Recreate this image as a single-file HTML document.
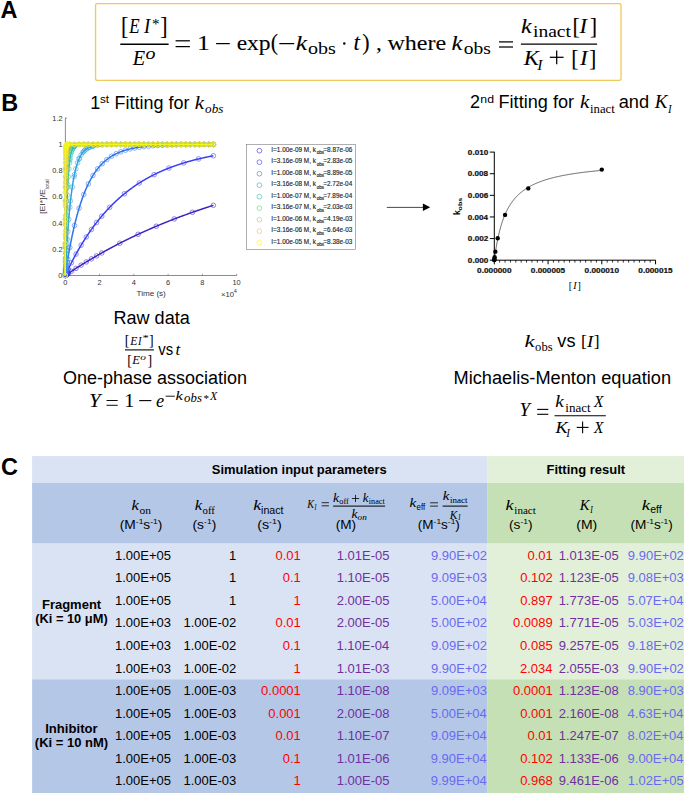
<!DOCTYPE html>
<html><head><meta charset="utf-8"><style>
html,body{margin:0;padding:0;background:#fff;width:685px;height:793px;overflow:hidden}
svg{display:block}
.S{font-family:"Liberation Sans",sans-serif}
.R{font-family:"Liberation Serif",serif}
.R2{stroke:#000;stroke-width:0.1px}
.R1{stroke:#000;stroke-width:0.03px}
.m{stroke:#262626;stroke-width:0.15px}
.p{stroke:#111;stroke-width:0.2px}
</style></head><body>
<svg width="685" height="793" viewBox="0 0 685 793">
<rect width="685" height="793" fill="#fff"/>
<text class="S" x="0.54" y="17.70" font-size="23.5" font-weight="bold" fill="#000">A</text>
<text class="S" x="1.35" y="110.70" font-size="23.5" font-weight="bold" fill="#000">B</text>
<text class="S" x="1.04" y="475.37" font-size="23.5" font-weight="bold" fill="#000">C</text>
<rect x="95.55" y="3.65" width="525.45" height="76.65" rx="1.5" fill="none" stroke="#efca5e" stroke-width="1.35"/>
<text class="R R2" x="121.07" y="0" font-size="22" fill="#000" transform="translate(0,33.98) scale(1,1.1254)">[</text>
<text class="R R2" x="129.20" y="33.40" font-size="22" font-style="italic" fill="#000" textLength="10.37" lengthAdjust="spacingAndGlyphs">E</text>
<text class="R R2" x="143.97" y="33.40" font-size="22" font-style="italic" fill="#000" textLength="6.18" lengthAdjust="spacingAndGlyphs">I</text>
<text class="R R1" x="151.98" y="28.72" font-size="15" fill="#000" textLength="7.53" lengthAdjust="spacingAndGlyphs">*</text>
<text class="R R2" x="160.21" y="0" font-size="22" fill="#000" transform="translate(0,33.98) scale(1,1.1254)">]</text>
<line x1="120.30" y1="44.30" x2="168.60" y2="44.30" stroke="#000" stroke-width="1.4"/>
<text class="R R2" x="132.74" y="64.90" font-size="22" font-style="italic" fill="#000" textLength="12.38" lengthAdjust="spacingAndGlyphs">E</text>
<text class="R R1" x="145.52" y="58.84" font-size="16" font-style="italic" fill="#000" textLength="9.95" lengthAdjust="spacingAndGlyphs">o</text>
<line x1="175.60" y1="40.80" x2="189.90" y2="40.80" stroke="#000" stroke-width="1.25"/>
<line x1="175.60" y1="46.60" x2="189.90" y2="46.60" stroke="#000" stroke-width="1.25"/>
<text class="R R2" x="196.96" y="50.10" font-size="22" fill="#000" textLength="12.89" lengthAdjust="spacingAndGlyphs">1</text>
<line x1="216.10" y1="43.60" x2="229.80" y2="43.60" stroke="#000" stroke-width="1.25"/>
<text class="R R2" x="236.68" y="50.10" font-size="22" fill="#000" textLength="33.93" lengthAdjust="spacingAndGlyphs">exp</text>
<text class="R R2" x="270.65" y="0" font-size="22" fill="#000" transform="translate(0,49.80) scale(1,1.0023)">(</text>
<line x1="279.30" y1="43.60" x2="294.20" y2="43.60" stroke="#000" stroke-width="1.25"/>
<text class="R R2" x="295.69" y="50.00" font-size="22" font-style="italic" fill="#000" textLength="11.33" lengthAdjust="spacingAndGlyphs">k</text>
<text class="R R1" x="308.04" y="54.20" font-size="16" fill="#000" textLength="27.87" lengthAdjust="spacingAndGlyphs">obs</text>
<circle cx="344.3" cy="43.4" r="1.25" fill="#000"/>
<text class="R R2" x="353.41" y="50.00" font-size="23" font-style="italic" fill="#000">t</text>
<text class="R R2" x="362.20" y="0" font-size="22" fill="#000" transform="translate(0,49.80) scale(1,1.0023)">)</text>
<text class="R R2" x="376.01" y="50.00" font-size="22" fill="#000" textLength="5.83" lengthAdjust="spacingAndGlyphs">,</text>
<text class="R R2" x="387.40" y="50.00" font-size="22" fill="#000" textLength="58.71" lengthAdjust="spacingAndGlyphs">where</text>
<text class="R R2" x="451.62" y="49.90" font-size="22" font-style="italic" fill="#000" textLength="10.81" lengthAdjust="spacingAndGlyphs">k</text>
<text class="R R1" x="463.76" y="54.20" font-size="16" fill="#000" textLength="27.13" lengthAdjust="spacingAndGlyphs">obs</text>
<line x1="499.00" y1="41.90" x2="513.00" y2="41.90" stroke="#000" stroke-width="1.25"/>
<line x1="499.00" y1="47.00" x2="513.00" y2="47.00" stroke="#000" stroke-width="1.25"/>
<line x1="520.90" y1="44.10" x2="597.10" y2="44.10" stroke="#000" stroke-width="1.4"/>
<text class="R R2" x="521.13" y="32.80" font-size="22" font-style="italic" fill="#000" textLength="10.61" lengthAdjust="spacingAndGlyphs">k</text>
<text class="R R1" x="532.99" y="37.00" font-size="16" fill="#000" textLength="37.91" lengthAdjust="spacingAndGlyphs">inact</text>
<text class="R R2" x="572.47" y="0" font-size="22" fill="#000" transform="translate(0,33.98) scale(1,1.0924)">[</text>
<text class="R R2" x="579.49" y="32.80" font-size="22" font-style="italic" fill="#000" textLength="7.51" lengthAdjust="spacingAndGlyphs">I</text>
<text class="R R2" x="589.71" y="0" font-size="22" fill="#000" transform="translate(0,33.98) scale(1,1.0924)">]</text>
<text class="R R2" x="523.77" y="64.60" font-size="22" font-style="italic" fill="#000" textLength="15.24" lengthAdjust="spacingAndGlyphs">K</text>
<text class="R R1" x="537.36" y="69.80" font-size="15" font-style="italic" fill="#000" textLength="5.21" lengthAdjust="spacingAndGlyphs">I</text>
<line x1="549.80" y1="57.30" x2="563.60" y2="57.30" stroke="#000" stroke-width="1.25"/>
<line x1="556.70" y1="50.40" x2="556.70" y2="64.20" stroke="#000" stroke-width="1.25"/>
<text class="R R2" x="571.17" y="0" font-size="22" fill="#000" transform="translate(0,66.00) scale(1,1.0870)">[</text>
<text class="R R2" x="580.09" y="64.60" font-size="22" font-style="italic" fill="#000" textLength="7.60" lengthAdjust="spacingAndGlyphs">I</text>
<text class="R R2" x="589.11" y="0" font-size="22" fill="#000" transform="translate(0,66.00) scale(1,1.0870)">]</text>
<text class="S" x="90.23" y="108.90" font-size="18" fill="#000">1</text>
<text class="S" x="99.98" y="102.98" font-size="11.7" fill="#000">st</text>
<text class="S" x="114.63" y="108.90" font-size="17.5" fill="#000" textLength="74.76" lengthAdjust="spacingAndGlyphs">Fitting for</text>
<text class="R R1" x="194.72" y="108.90" font-size="18" font-style="italic" fill="#000" textLength="9.27" lengthAdjust="spacingAndGlyphs">k</text>
<text class="R R1" x="205.12" y="113.27" font-size="13" font-style="italic" fill="#000" textLength="18.28" lengthAdjust="spacingAndGlyphs">obs</text>
<text class="S" x="470.10" y="108.10" font-size="18" fill="#000">2</text>
<text class="S" x="480.29" y="102.58" font-size="11.7" fill="#000" textLength="13.71" lengthAdjust="spacingAndGlyphs">nd</text>
<text class="S" x="498.51" y="108.20" font-size="17.5" fill="#000" textLength="75.58" lengthAdjust="spacingAndGlyphs">Fitting for</text>
<text class="R R1" x="579.91" y="108.20" font-size="18" font-style="italic" fill="#000" textLength="9.37" lengthAdjust="spacingAndGlyphs">k</text>
<text class="R R1" x="590.03" y="112.60" font-size="13" fill="#000" textLength="24.74" lengthAdjust="spacingAndGlyphs">inact</text>
<text class="S" x="618.73" y="108.20" font-size="17.5" fill="#000" textLength="30.44" lengthAdjust="spacingAndGlyphs">and</text>
<text class="R R1" x="654.83" y="108.20" font-size="18" font-style="italic" fill="#000" textLength="12.75" lengthAdjust="spacingAndGlyphs">K</text>
<text class="R R1" x="668.04" y="113.10" font-size="12" font-style="italic" fill="#000" textLength="3.62" lengthAdjust="spacingAndGlyphs">I</text>
<line x1="65.40" y1="117.60" x2="65.40" y2="275.50" stroke="#5a5a5a" stroke-width="0.7"/>
<line x1="65.20" y1="275.50" x2="236.80" y2="275.50" stroke="#5a5a5a" stroke-width="0.7"/>
<line x1="65.40" y1="275.50" x2="67.10" y2="275.50" stroke="#5a5a5a" stroke-width="0.6"/>
<text class="S" x="58.37" y="278.10" font-size="7.4" fill="#333">0</text>
<line x1="65.40" y1="249.28" x2="67.10" y2="249.28" stroke="#5a5a5a" stroke-width="0.6"/>
<text class="S" x="52.28" y="251.88" font-size="7.4" fill="#333">0.2</text>
<line x1="65.40" y1="223.06" x2="67.10" y2="223.06" stroke="#5a5a5a" stroke-width="0.6"/>
<text class="S" x="52.13" y="225.66" font-size="7.4" fill="#333">0.4</text>
<line x1="65.40" y1="196.84" x2="67.10" y2="196.84" stroke="#5a5a5a" stroke-width="0.6"/>
<text class="S" x="52.23" y="199.44" font-size="7.4" fill="#333">0.6</text>
<line x1="65.40" y1="170.62" x2="67.10" y2="170.62" stroke="#5a5a5a" stroke-width="0.6"/>
<text class="S" x="52.23" y="173.22" font-size="7.4" fill="#333">0.8</text>
<line x1="65.40" y1="144.40" x2="67.10" y2="144.40" stroke="#5a5a5a" stroke-width="0.6"/>
<text class="S" x="58.44" y="147.00" font-size="7.4" fill="#333">1</text>
<line x1="65.40" y1="118.18" x2="67.10" y2="118.18" stroke="#5a5a5a" stroke-width="0.6"/>
<text class="S" x="52.28" y="120.78" font-size="7.4" fill="#333">1.2</text>
<line x1="65.20" y1="275.50" x2="65.20" y2="273.80" stroke="#5a5a5a" stroke-width="0.6"/>
<text class="S" x="63.14" y="285.30" font-size="7.4" fill="#333">0</text>
<line x1="99.50" y1="275.50" x2="99.50" y2="273.80" stroke="#5a5a5a" stroke-width="0.6"/>
<text class="S" x="97.44" y="285.30" font-size="7.4" fill="#333">2</text>
<line x1="133.80" y1="275.50" x2="133.80" y2="273.80" stroke="#5a5a5a" stroke-width="0.6"/>
<text class="S" x="131.77" y="285.30" font-size="7.4" fill="#333">4</text>
<line x1="168.10" y1="275.50" x2="168.10" y2="273.80" stroke="#5a5a5a" stroke-width="0.6"/>
<text class="S" x="166.02" y="285.30" font-size="7.4" fill="#333">6</text>
<line x1="202.40" y1="275.50" x2="202.40" y2="273.80" stroke="#5a5a5a" stroke-width="0.6"/>
<text class="S" x="200.34" y="285.30" font-size="7.4" fill="#333">8</text>
<line x1="236.70" y1="275.50" x2="236.70" y2="273.80" stroke="#5a5a5a" stroke-width="0.6"/>
<text class="S" x="232.44" y="285.30" font-size="7.4" fill="#333">10</text>
<text class="S" x="136.52" y="296.00" font-size="8" fill="#333" textLength="29.28" lengthAdjust="spacingAndGlyphs">Time (s)</text>
<text class="S" x="220.97" y="296.80" font-size="7.4" fill="#333" textLength="12.92" lengthAdjust="spacingAndGlyphs">×10</text>
<text class="S" x="233.68" y="293.38" font-size="5.2" fill="#333" textLength="3.08" lengthAdjust="spacingAndGlyphs">4</text>
<g transform="translate(44.9,213.4) rotate(-90)">
<text class="S" x="-0.63" y="0.00" font-size="8" fill="#333" textLength="25.00" lengthAdjust="spacingAndGlyphs">[EI*]/E</text>
<text class="S" x="24.22" y="3.80" font-size="6.0" fill="#333" textLength="9.82" lengthAdjust="spacingAndGlyphs">total</text>
</g>
<g fill="none" stroke="#3e22c4" stroke-width="0.55"><circle cx="65.20" cy="275.50" r="2.3"/><circle cx="65.30" cy="275.43" r="2.3"/><circle cx="65.41" cy="275.36" r="2.3"/><circle cx="65.51" cy="275.29" r="2.3"/><circle cx="65.61" cy="275.22" r="2.3"/><circle cx="65.71" cy="275.15" r="2.3"/><circle cx="65.92" cy="275.01" r="2.3"/><circle cx="66.13" cy="274.87" r="2.3"/><circle cx="66.33" cy="274.73" r="2.3"/><circle cx="66.54" cy="274.60" r="2.3"/><circle cx="66.74" cy="274.46" r="2.3"/><circle cx="67.26" cy="274.11" r="2.3"/><circle cx="67.77" cy="273.77" r="2.3"/><circle cx="68.29" cy="273.42" r="2.3"/><circle cx="71.37" cy="271.38" r="2.3"/><circle cx="76.00" cy="268.37" r="2.3"/><circle cx="81.15" cy="265.12" r="2.3"/><circle cx="86.29" cy="261.95" r="2.3"/><circle cx="91.44" cy="258.86" r="2.3"/><circle cx="96.58" cy="255.86" r="2.3"/><circle cx="101.73" cy="252.93" r="2.3"/><circle cx="119.74" cy="243.28" r="2.3"/><circle cx="138.09" cy="234.33" r="2.3"/><circle cx="156.27" cy="226.26" r="2.3"/><circle cx="174.27" cy="218.98" r="2.3"/><circle cx="192.45" cy="212.28" r="2.3"/><circle cx="213.38" cy="205.32" r="2.3"/></g>
<polyline points="65.20,275.50 65.57,275.25 65.94,275.00 66.31,274.75 66.68,274.50 67.05,274.25 67.42,274.00 67.79,273.75 68.16,273.51 68.53,273.26 68.90,273.01 69.27,272.77 69.65,272.52 70.02,272.28 70.39,272.03 70.76,271.79 71.13,271.54 71.50,271.30 71.87,271.06 72.24,270.81 72.61,270.57 72.98,270.33 73.35,270.09 73.72,269.85 74.09,269.61 74.46,269.37 74.83,269.13 75.20,268.89 75.57,268.65 75.94,268.41 76.31,268.18 76.68,267.94 77.05,267.70 77.42,267.47 77.79,267.23 78.17,267.00 78.54,266.76 78.91,266.53 79.28,266.29 79.65,266.06 80.02,265.83 80.39,265.60 80.76,265.36 81.13,265.13 81.50,264.90 81.87,264.67 82.24,264.44 82.61,264.21 82.98,263.98 83.35,263.75 83.72,263.52 84.09,263.30 84.46,263.07 84.83,262.84 85.20,262.61 85.57,262.39 85.94,262.16 86.32,261.94 86.69,261.71 87.06,261.49 87.43,261.26 87.80,261.04 88.17,260.82 88.54,260.59 88.91,260.37 89.28,260.15 89.65,259.93 90.02,259.71 90.39,259.49 90.76,259.27 91.13,259.05 91.50,258.83 91.87,258.61 92.24,258.39 92.61,258.17 92.98,257.95 93.35,257.74 93.72,257.52 94.09,257.30 94.46,257.09 94.84,256.87 95.21,256.65 95.58,256.44 95.95,256.23 96.32,256.01 96.69,255.80 97.06,255.58 97.43,255.37 97.80,255.16 98.17,254.95 98.54,254.74 98.91,254.52 99.28,254.31 99.65,254.10 100.02,253.89 100.39,253.68 100.76,253.47 101.13,253.27 101.50,253.06 101.87,252.85 102.24,252.64 102.61,252.43 102.98,252.23 103.36,252.02 103.73,251.82 104.10,251.61 104.47,251.40 104.84,251.20 105.21,251.00 105.58,250.79 105.95,250.59 106.32,250.38 106.69,250.18 107.06,249.98 107.43,249.78 107.80,249.58 108.17,249.37 108.54,249.17 108.91,248.97 109.28,248.77 109.65,248.57 110.02,248.37 110.39,248.17 110.76,247.98 111.13,247.78 111.50,247.58 111.88,247.38 112.25,247.18 112.62,246.99 112.99,246.79 113.36,246.60 113.73,246.40 114.10,246.20 114.47,246.01 114.84,245.82 115.21,245.62 115.58,245.43 115.95,245.23 116.32,245.04 116.69,244.85 117.06,244.66 117.43,244.46 117.80,244.27 118.17,244.08 118.54,243.89 118.91,243.70 119.28,243.51 119.65,243.32 120.03,243.13 120.40,242.94 120.77,242.75 121.14,242.57 121.51,242.38 121.88,242.19 122.25,242.00 122.62,241.82 122.99,241.63 123.36,241.44 123.73,241.26 124.10,241.07 124.47,240.89 124.84,240.70 125.21,240.52 125.58,240.33 125.95,240.15 126.32,239.97 126.69,239.78 127.06,239.60 127.43,239.42 127.80,239.24 128.17,239.06 128.55,238.88 128.92,238.69 129.29,238.51 129.66,238.33 130.03,238.15 130.40,237.97 130.77,237.80 131.14,237.62 131.51,237.44 131.88,237.26 132.25,237.08 132.62,236.91 132.99,236.73 133.36,236.55 133.73,236.37 134.10,236.20 134.47,236.02 134.84,235.85 135.21,235.67 135.58,235.50 135.95,235.32 136.32,235.15 136.69,234.98 137.07,234.80 137.44,234.63 137.81,234.46 138.18,234.28 138.55,234.11 138.92,233.94 139.29,233.77 139.66,233.60 140.03,233.43 140.40,233.26 140.77,233.09 141.14,232.92 141.51,232.75 141.88,232.58 142.25,232.41 142.62,232.24 142.99,232.07 143.36,231.91 143.73,231.74 144.10,231.57 144.47,231.40 144.84,231.24 145.22,231.07 145.59,230.91 145.96,230.74 146.33,230.57 146.70,230.41 147.07,230.24 147.44,230.08 147.81,229.92 148.18,229.75 148.55,229.59 148.92,229.43 149.29,229.26 149.66,229.10 150.03,228.94 150.40,228.78 150.77,228.62 151.14,228.45 151.51,228.29 151.88,228.13 152.25,227.97 152.62,227.81 152.99,227.65 153.36,227.49 153.74,227.33 154.11,227.18 154.48,227.02 154.85,226.86 155.22,226.70 155.59,226.54 155.96,226.39 156.33,226.23 156.70,226.07 157.07,225.92 157.44,225.76 157.81,225.61 158.18,225.45 158.55,225.29 158.92,225.14 159.29,224.99 159.66,224.83 160.03,224.68 160.40,224.52 160.77,224.37 161.14,224.22 161.51,224.06 161.88,223.91 162.26,223.76 162.63,223.61 163.00,223.46 163.37,223.30 163.74,223.15 164.11,223.00 164.48,222.85 164.85,222.70 165.22,222.55 165.59,222.40 165.96,222.25 166.33,222.10 166.70,221.96 167.07,221.81 167.44,221.66 167.81,221.51 168.18,221.36 168.55,221.22 168.92,221.07 169.29,220.92 169.66,220.78 170.03,220.63 170.40,220.48 170.78,220.34 171.15,220.19 171.52,220.05 171.89,219.90 172.26,219.76 172.63,219.61 173.00,219.47 173.37,219.33 173.74,219.18 174.11,219.04 174.48,218.90 174.85,218.75 175.22,218.61 175.59,218.47 175.96,218.33 176.33,218.19 176.70,218.05 177.07,217.90 177.44,217.76 177.81,217.62 178.18,217.48 178.55,217.34 178.93,217.20 179.30,217.06 179.67,216.93 180.04,216.79 180.41,216.65 180.78,216.51 181.15,216.37 181.52,216.23 181.89,216.10 182.26,215.96 182.63,215.82 183.00,215.69 183.37,215.55 183.74,215.41 184.11,215.28 184.48,215.14 184.85,215.01 185.22,214.87 185.59,214.74 185.96,214.60 186.33,214.47 186.70,214.33 187.07,214.20 187.45,214.07 187.82,213.93 188.19,213.80 188.56,213.67 188.93,213.53 189.30,213.40 189.67,213.27 190.04,213.14 190.41,213.01 190.78,212.87 191.15,212.74 191.52,212.61 191.89,212.48 192.26,212.35 192.63,212.22 193.00,212.09 193.37,211.96 193.74,211.83 194.11,211.70 194.48,211.58 194.85,211.45 195.22,211.32 195.59,211.19 195.97,211.06 196.34,210.93 196.71,210.81 197.08,210.68 197.45,210.55 197.82,210.43 198.19,210.30 198.56,210.17 198.93,210.05 199.30,209.92 199.67,209.80 200.04,209.67 200.41,209.55 200.78,209.42 201.15,209.30 201.52,209.17 201.89,209.05 202.26,208.93 202.63,208.80 203.00,208.68 203.37,208.56 203.74,208.43 204.12,208.31 204.49,208.19 204.86,208.07 205.23,207.94 205.60,207.82 205.97,207.70 206.34,207.58 206.71,207.46 207.08,207.34 207.45,207.22 207.82,207.10 208.19,206.98 208.56,206.86 208.93,206.74 209.30,206.62 209.67,206.50 210.04,206.38 210.41,206.26 210.78,206.14 211.15,206.03 211.52,205.91 211.89,205.79 212.26,205.67 212.64,205.56 213.01,205.44 213.38,205.32" fill="none" stroke="#3e22c4" stroke-width="1.5"/>
<g fill="none" stroke="#3b3df2" stroke-width="0.55"><circle cx="65.20" cy="275.50" r="2.3"/><circle cx="65.30" cy="275.28" r="2.3"/><circle cx="65.41" cy="275.06" r="2.3"/><circle cx="65.51" cy="274.83" r="2.3"/><circle cx="65.61" cy="274.61" r="2.3"/><circle cx="65.71" cy="274.39" r="2.3"/><circle cx="65.92" cy="273.95" r="2.3"/><circle cx="66.13" cy="273.51" r="2.3"/><circle cx="66.33" cy="273.07" r="2.3"/><circle cx="66.54" cy="272.64" r="2.3"/><circle cx="66.74" cy="272.20" r="2.3"/><circle cx="67.26" cy="271.12" r="2.3"/><circle cx="67.77" cy="270.05" r="2.3"/><circle cx="68.29" cy="268.99" r="2.3"/><circle cx="71.37" cy="262.80" r="2.3"/><circle cx="76.00" cy="254.09" r="2.3"/><circle cx="81.15" cy="245.16" r="2.3"/><circle cx="86.29" cy="236.96" r="2.3"/><circle cx="91.44" cy="229.43" r="2.3"/><circle cx="96.58" cy="222.51" r="2.3"/><circle cx="101.73" cy="216.15" r="2.3"/><circle cx="109.65" cy="207.36" r="2.3"/><circle cx="124.47" cy="193.70" r="2.3"/><circle cx="139.29" cy="183.01" r="2.3"/><circle cx="154.11" cy="174.63" r="2.3"/><circle cx="168.92" cy="168.07" r="2.3"/><circle cx="183.74" cy="162.94" r="2.3"/><circle cx="198.56" cy="158.92" r="2.3"/><circle cx="213.38" cy="155.77" r="2.3"/></g>
<polyline points="65.20,275.50 65.57,274.70 65.94,273.91 66.31,273.12 66.68,272.33 67.05,271.55 67.42,270.78 67.79,270.01 68.16,269.24 68.53,268.48 68.90,267.73 69.27,266.97 69.65,266.23 70.02,265.49 70.39,264.75 70.76,264.01 71.13,263.28 71.50,262.56 71.87,261.84 72.24,261.12 72.61,260.41 72.98,259.71 73.35,259.00 73.72,258.31 74.09,257.61 74.46,256.92 74.83,256.24 75.20,255.55 75.57,254.88 75.94,254.20 76.31,253.53 76.68,252.87 77.05,252.21 77.42,251.55 77.79,250.90 78.17,250.25 78.54,249.60 78.91,248.96 79.28,248.33 79.65,247.69 80.02,247.06 80.39,246.44 80.76,245.82 81.13,245.20 81.50,244.58 81.87,243.97 82.24,243.37 82.61,242.76 82.98,242.16 83.35,241.57 83.72,240.98 84.09,240.39 84.46,239.80 84.83,239.22 85.20,238.64 85.57,238.07 85.94,237.50 86.32,236.93 86.69,236.37 87.06,235.81 87.43,235.25 87.80,234.69 88.17,234.14 88.54,233.60 88.91,233.05 89.28,232.51 89.65,231.98 90.02,231.44 90.39,230.91 90.76,230.39 91.13,229.86 91.50,229.34 91.87,228.82 92.24,228.31 92.61,227.80 92.98,227.29 93.35,226.78 93.72,226.28 94.09,225.78 94.46,225.29 94.84,224.79 95.21,224.30 95.58,223.82 95.95,223.33 96.32,222.85 96.69,222.37 97.06,221.90 97.43,221.43 97.80,220.96 98.17,220.49 98.54,220.03 98.91,219.57 99.28,219.11 99.65,218.65 100.02,218.20 100.39,217.75 100.76,217.30 101.13,216.86 101.50,216.42 101.87,215.98 102.24,215.54 102.61,215.11 102.98,214.68 103.36,214.25 103.73,213.82 104.10,213.40 104.47,212.98 104.84,212.56 105.21,212.15 105.58,211.73 105.95,211.32 106.32,210.92 106.69,210.51 107.06,210.11 107.43,209.71 107.80,209.31 108.17,208.91 108.54,208.52 108.91,208.13 109.28,207.74 109.65,207.36 110.02,206.97 110.39,206.59 110.76,206.21 111.13,205.83 111.50,205.46 111.88,205.09 112.25,204.72 112.62,204.35 112.99,203.99 113.36,203.62 113.73,203.26 114.10,202.90 114.47,202.55 114.84,202.19 115.21,201.84 115.58,201.49 115.95,201.14 116.32,200.80 116.69,200.45 117.06,200.11 117.43,199.77 117.80,199.43 118.17,199.10 118.54,198.76 118.91,198.43 119.28,198.10 119.65,197.78 120.03,197.45 120.40,197.13 120.77,196.81 121.14,196.49 121.51,196.17 121.88,195.85 122.25,195.54 122.62,195.23 122.99,194.92 123.36,194.61 123.73,194.31 124.10,194.00 124.47,193.70 124.84,193.40 125.21,193.10 125.58,192.80 125.95,192.51 126.32,192.22 126.69,191.92 127.06,191.63 127.43,191.35 127.80,191.06 128.17,190.78 128.55,190.49 128.92,190.21 129.29,189.93 129.66,189.66 130.03,189.38 130.40,189.11 130.77,188.83 131.14,188.56 131.51,188.29 131.88,188.03 132.25,187.76 132.62,187.50 132.99,187.23 133.36,186.97 133.73,186.71 134.10,186.46 134.47,186.20 134.84,185.94 135.21,185.69 135.58,185.44 135.95,185.19 136.32,184.94 136.69,184.69 137.07,184.45 137.44,184.20 137.81,183.96 138.18,183.72 138.55,183.48 138.92,183.24 139.29,183.01 139.66,182.77 140.03,182.54 140.40,182.30 140.77,182.07 141.14,181.84 141.51,181.62 141.88,181.39 142.25,181.16 142.62,180.94 142.99,180.72 143.36,180.50 143.73,180.28 144.10,180.06 144.47,179.84 144.84,179.62 145.22,179.41 145.59,179.20 145.96,178.98 146.33,178.77 146.70,178.56 147.07,178.35 147.44,178.15 147.81,177.94 148.18,177.74 148.55,177.53 148.92,177.33 149.29,177.13 149.66,176.93 150.03,176.73 150.40,176.54 150.77,176.34 151.14,176.15 151.51,175.95 151.88,175.76 152.25,175.57 152.62,175.38 152.99,175.19 153.36,175.00 153.74,174.82 154.11,174.63 154.48,174.45 154.85,174.26 155.22,174.08 155.59,173.90 155.96,173.72 156.33,173.54 156.70,173.37 157.07,173.19 157.44,173.01 157.81,172.84 158.18,172.67 158.55,172.49 158.92,172.32 159.29,172.15 159.66,171.98 160.03,171.81 160.40,171.65 160.77,171.48 161.14,171.32 161.51,171.15 161.88,170.99 162.26,170.83 162.63,170.67 163.00,170.51 163.37,170.35 163.74,170.19 164.11,170.03 164.48,169.88 164.85,169.72 165.22,169.57 165.59,169.41 165.96,169.26 166.33,169.11 166.70,168.96 167.07,168.81 167.44,168.66 167.81,168.51 168.18,168.37 168.55,168.22 168.92,168.07 169.29,167.93 169.66,167.79 170.03,167.64 170.40,167.50 170.78,167.36 171.15,167.22 171.52,167.08 171.89,166.94 172.26,166.81 172.63,166.67 173.00,166.53 173.37,166.40 173.74,166.27 174.11,166.13 174.48,166.00 174.85,165.87 175.22,165.74 175.59,165.61 175.96,165.48 176.33,165.35 176.70,165.22 177.07,165.10 177.44,164.97 177.81,164.84 178.18,164.72 178.55,164.60 178.93,164.47 179.30,164.35 179.67,164.23 180.04,164.11 180.41,163.99 180.78,163.87 181.15,163.75 181.52,163.63 181.89,163.51 182.26,163.40 182.63,163.28 183.00,163.17 183.37,163.05 183.74,162.94 184.11,162.83 184.48,162.71 184.85,162.60 185.22,162.49 185.59,162.38 185.96,162.27 186.33,162.16 186.70,162.05 187.07,161.95 187.45,161.84 187.82,161.73 188.19,161.63 188.56,161.52 188.93,161.42 189.30,161.31 189.67,161.21 190.04,161.11 190.41,161.01 190.78,160.91 191.15,160.81 191.52,160.71 191.89,160.61 192.26,160.51 192.63,160.41 193.00,160.31 193.37,160.21 193.74,160.12 194.11,160.02 194.48,159.93 194.85,159.83 195.22,159.74 195.59,159.65 195.97,159.55 196.34,159.46 196.71,159.37 197.08,159.28 197.45,159.19 197.82,159.10 198.19,159.01 198.56,158.92 198.93,158.83 199.30,158.74 199.67,158.65 200.04,158.57 200.41,158.48 200.78,158.39 201.15,158.31 201.52,158.22 201.89,158.14 202.26,158.06 202.63,157.97 203.00,157.89 203.37,157.81 203.74,157.73 204.12,157.65 204.49,157.56 204.86,157.48 205.23,157.40 205.60,157.33 205.97,157.25 206.34,157.17 206.71,157.09 207.08,157.01 207.45,156.94 207.82,156.86 208.19,156.78 208.56,156.71 208.93,156.63 209.30,156.56 209.67,156.49 210.04,156.41 210.41,156.34 210.78,156.27 211.15,156.19 211.52,156.12 211.89,156.05 212.26,155.98 212.64,155.91 213.01,155.84 213.38,155.77" fill="none" stroke="#3b3df2" stroke-width="1.5"/>
<g fill="none" stroke="#2f74ee" stroke-width="0.55"><circle cx="65.20" cy="275.50" r="2.3"/><circle cx="65.30" cy="274.80" r="2.3"/><circle cx="65.41" cy="274.11" r="2.3"/><circle cx="65.51" cy="273.42" r="2.3"/><circle cx="65.61" cy="272.73" r="2.3"/><circle cx="65.71" cy="272.05" r="2.3"/><circle cx="65.92" cy="270.70" r="2.3"/><circle cx="66.13" cy="269.36" r="2.3"/><circle cx="66.33" cy="268.03" r="2.3"/><circle cx="66.54" cy="266.72" r="2.3"/><circle cx="66.74" cy="265.42" r="2.3"/><circle cx="67.26" cy="262.23" r="2.3"/><circle cx="67.77" cy="259.13" r="2.3"/><circle cx="69.83" cy="247.52" r="2.3"/><circle cx="74.46" cy="225.52" r="2.3"/><circle cx="79.09" cy="208.21" r="2.3"/><circle cx="83.72" cy="194.59" r="2.3"/><circle cx="88.35" cy="183.88" r="2.3"/><circle cx="92.98" cy="175.46" r="2.3"/><circle cx="97.61" cy="168.83" r="2.3"/><circle cx="102.24" cy="163.62" r="2.3"/><circle cx="106.87" cy="159.52" r="2.3"/><circle cx="111.50" cy="156.29" r="2.3"/><circle cx="116.14" cy="153.75" r="2.3"/><circle cx="120.77" cy="151.76" r="2.3"/><circle cx="125.40" cy="150.19" r="2.3"/><circle cx="130.03" cy="148.95" r="2.3"/><circle cx="134.66" cy="147.98" r="2.3"/><circle cx="139.29" cy="147.22" r="2.3"/><circle cx="143.92" cy="146.62" r="2.3"/><circle cx="148.55" cy="146.14" r="2.3"/><circle cx="153.18" cy="145.77" r="2.3"/><circle cx="157.81" cy="145.48" r="2.3"/><circle cx="162.44" cy="145.25" r="2.3"/><circle cx="167.07" cy="145.07" r="2.3"/><circle cx="171.70" cy="144.92" r="2.3"/><circle cx="176.33" cy="144.81" r="2.3"/><circle cx="180.96" cy="144.72" r="2.3"/><circle cx="185.59" cy="144.66" r="2.3"/><circle cx="190.22" cy="144.60" r="2.3"/><circle cx="194.85" cy="144.56" r="2.3"/><circle cx="199.48" cy="144.52" r="2.3"/><circle cx="204.12" cy="144.50" r="2.3"/><circle cx="208.75" cy="144.48" r="2.3"/><circle cx="213.38" cy="144.46" r="2.3"/></g>
<polyline points="65.20,275.50 65.57,273.01 65.94,270.56 66.31,268.16 66.68,265.81 67.05,263.50 67.42,261.23 67.79,259.01 68.16,256.83 68.53,254.69 68.90,252.60 69.27,250.54 69.65,248.52 70.02,246.54 70.39,244.60 70.76,242.69 71.13,240.82 71.50,238.99 71.87,237.19 72.24,235.42 72.61,233.69 72.98,231.99 73.35,230.33 73.72,228.69 74.09,227.09 74.46,225.52 74.83,223.97 75.20,222.46 75.57,220.98 75.94,219.52 76.31,218.09 76.68,216.69 77.05,215.32 77.42,213.97 77.79,212.64 78.17,211.35 78.54,210.07 78.91,208.82 79.28,207.60 79.65,206.40 80.02,205.22 80.39,204.06 80.76,202.93 81.13,201.81 81.50,200.72 81.87,199.65 82.24,198.60 82.61,197.57 82.98,196.56 83.35,195.56 83.72,194.59 84.09,193.64 84.46,192.70 84.83,191.78 85.20,190.88 85.57,190.00 85.94,189.13 86.32,188.28 86.69,187.44 87.06,186.63 87.43,185.82 87.80,185.03 88.17,184.26 88.54,183.50 88.91,182.76 89.28,182.03 89.65,181.31 90.02,180.61 90.39,179.92 90.76,179.25 91.13,178.59 91.50,177.94 91.87,177.30 92.24,176.67 92.61,176.06 92.98,175.46 93.35,174.86 93.72,174.29 94.09,173.72 94.46,173.16 94.84,172.61 95.21,172.08 95.58,171.55 95.95,171.03 96.32,170.53 96.69,170.03 97.06,169.54 97.43,169.06 97.80,168.60 98.17,168.13 98.54,167.68 98.91,167.24 99.28,166.81 99.65,166.38 100.02,165.96 100.39,165.55 100.76,165.15 101.13,164.76 101.50,164.37 101.87,163.99 102.24,163.62 102.61,163.25 102.98,162.89 103.36,162.54 103.73,162.19 104.10,161.86 104.47,161.52 104.84,161.20 105.21,160.88 105.58,160.57 105.95,160.26 106.32,159.96 106.69,159.66 107.06,159.37 107.43,159.09 107.80,158.81 108.17,158.53 108.54,158.26 108.91,158.00 109.28,157.74 109.65,157.49 110.02,157.24 110.39,156.99 110.76,156.76 111.13,156.52 111.50,156.29 111.88,156.06 112.25,155.84 112.62,155.62 112.99,155.41 113.36,155.20 113.73,155.00 114.10,154.79 114.47,154.60 114.84,154.40 115.21,154.21 115.58,154.03 115.95,153.84 116.32,153.66 116.69,153.49 117.06,153.31 117.43,153.14 117.80,152.98 118.17,152.82 118.54,152.65 118.91,152.50 119.28,152.34 119.65,152.19 120.03,152.04 120.40,151.90 120.77,151.76 121.14,151.62 121.51,151.48 121.88,151.34 122.25,151.21 122.62,151.08 122.99,150.96 123.36,150.83 123.73,150.71 124.10,150.59 124.47,150.47 124.84,150.36 125.21,150.24 125.58,150.13 125.95,150.02 126.32,149.92 126.69,149.81 127.06,149.71 127.43,149.61 127.80,149.51 128.17,149.41 128.55,149.32 128.92,149.22 129.29,149.13 129.66,149.04 130.03,148.95 130.40,148.87 130.77,148.78 131.14,148.70 131.51,148.62 131.88,148.54 132.25,148.46 132.62,148.38 132.99,148.30 133.36,148.23 133.73,148.16 134.10,148.09 134.47,148.02 134.84,147.95 135.21,147.88 135.58,147.81 135.95,147.75 136.32,147.68 136.69,147.62 137.07,147.56 137.44,147.50 137.81,147.44 138.18,147.38 138.55,147.33 138.92,147.27 139.29,147.22 139.66,147.16 140.03,147.11 140.40,147.06 140.77,147.01 141.14,146.96 141.51,146.91 141.88,146.86 142.25,146.82 142.62,146.77 142.99,146.72 143.36,146.68 143.73,146.64 144.10,146.59 144.47,146.55 144.84,146.51 145.22,146.47 145.59,146.43 145.96,146.39 146.33,146.36 146.70,146.32 147.07,146.28 147.44,146.25 147.81,146.21 148.18,146.18 148.55,146.14 148.92,146.11 149.29,146.08 149.66,146.05 150.03,146.01 150.40,145.98 150.77,145.95 151.14,145.92 151.51,145.89 151.88,145.87 152.25,145.84 152.62,145.81 152.99,145.78 153.36,145.76 153.74,145.73 154.11,145.71 154.48,145.68 154.85,145.66 155.22,145.63 155.59,145.61 155.96,145.59 156.33,145.56 156.70,145.54 157.07,145.52 157.44,145.50 157.81,145.48 158.18,145.46 158.55,145.44 158.92,145.42 159.29,145.40 159.66,145.38 160.03,145.36 160.40,145.34 160.77,145.32 161.14,145.31 161.51,145.29 161.88,145.27 162.26,145.26 162.63,145.24 163.00,145.22 163.37,145.21 163.74,145.19 164.11,145.18 164.48,145.16 164.85,145.15 165.22,145.13 165.59,145.12 165.96,145.11 166.33,145.09 166.70,145.08 167.07,145.07 167.44,145.05 167.81,145.04 168.18,145.03 168.55,145.02 168.92,145.01 169.29,144.99 169.66,144.98 170.03,144.97 170.40,144.96 170.78,144.95 171.15,144.94 171.52,144.93 171.89,144.92 172.26,144.91 172.63,144.90 173.00,144.89 173.37,144.88 173.74,144.87 174.11,144.86 174.48,144.85 174.85,144.85 175.22,144.84 175.59,144.83 175.96,144.82 176.33,144.81 176.70,144.80 177.07,144.80 177.44,144.79 177.81,144.78 178.18,144.78 178.55,144.77 178.93,144.76 179.30,144.75 179.67,144.75 180.04,144.74 180.41,144.73 180.78,144.73 181.15,144.72 181.52,144.72 181.89,144.71 182.26,144.70 182.63,144.70 183.00,144.69 183.37,144.69 183.74,144.68 184.11,144.68 184.48,144.67 184.85,144.67 185.22,144.66 185.59,144.66 185.96,144.65 186.33,144.65 186.70,144.64 187.07,144.64 187.45,144.63 187.82,144.63 188.19,144.62 188.56,144.62 188.93,144.61 189.30,144.61 189.67,144.61 190.04,144.60 190.41,144.60 190.78,144.60 191.15,144.59 191.52,144.59 191.89,144.58 192.26,144.58 192.63,144.58 193.00,144.57 193.37,144.57 193.74,144.57 194.11,144.56 194.48,144.56 194.85,144.56 195.22,144.56 195.59,144.55 195.97,144.55 196.34,144.55 196.71,144.54 197.08,144.54 197.45,144.54 197.82,144.54 198.19,144.53 198.56,144.53 198.93,144.53 199.30,144.53 199.67,144.52 200.04,144.52 200.41,144.52 200.78,144.52 201.15,144.51 201.52,144.51 201.89,144.51 202.26,144.51 202.63,144.51 203.00,144.50 203.37,144.50 203.74,144.50 204.12,144.50 204.49,144.50 204.86,144.49 205.23,144.49 205.60,144.49 205.97,144.49 206.34,144.49 206.71,144.49 207.08,144.48 207.45,144.48 207.82,144.48 208.19,144.48 208.56,144.48 208.93,144.48 209.30,144.47 209.67,144.47 210.04,144.47 210.41,144.47 210.78,144.47 211.15,144.47 211.52,144.47 211.89,144.47 212.26,144.46 212.64,144.46 213.01,144.46 213.38,144.46" fill="none" stroke="#2f74ee" stroke-width="1.5"/>
<g fill="none" stroke="#2fa0e2" stroke-width="0.55"><circle cx="65.20" cy="275.50" r="2.3"/><circle cx="65.30" cy="273.38" r="2.3"/><circle cx="65.41" cy="271.29" r="2.3"/><circle cx="65.51" cy="269.24" r="2.3"/><circle cx="65.61" cy="267.22" r="2.3"/><circle cx="65.71" cy="265.23" r="2.3"/><circle cx="65.92" cy="261.35" r="2.3"/><circle cx="66.13" cy="257.59" r="2.3"/><circle cx="66.33" cy="253.96" r="2.3"/><circle cx="66.54" cy="250.44" r="2.3"/><circle cx="66.74" cy="247.03" r="2.3"/><circle cx="66.97" cy="243.48" r="2.3"/><circle cx="67.26" cy="238.99" r="2.3"/><circle cx="67.77" cy="231.58" r="2.3"/><circle cx="68.73" cy="219.29" r="2.3"/><circle cx="69.83" cy="207.30" r="2.3"/><circle cx="70.50" cy="201.00" r="2.3"/><circle cx="72.26" cy="187.18" r="2.3"/><circle cx="74.03" cy="176.73" r="2.3"/><circle cx="74.46" cy="174.58" r="2.3"/><circle cx="75.79" cy="168.83" r="2.3"/><circle cx="77.56" cy="162.87" r="2.3"/><circle cx="79.09" cy="158.88" r="2.3"/><circle cx="79.32" cy="158.36" r="2.3"/><circle cx="81.09" cy="154.95" r="2.3"/><circle cx="82.85" cy="152.37" r="2.3"/><circle cx="83.72" cy="151.35" r="2.3"/><circle cx="84.62" cy="150.43" r="2.3"/><circle cx="86.39" cy="148.95" r="2.3"/><circle cx="88.15" cy="147.84" r="2.3"/><circle cx="88.35" cy="147.73" r="2.3"/><circle cx="89.92" cy="147.00" r="2.3"/><circle cx="91.68" cy="146.37" r="2.3"/><circle cx="92.98" cy="146.00" r="2.3"/><circle cx="93.45" cy="145.89" r="2.3"/><circle cx="97.61" cy="145.17" r="2.3"/><circle cx="102.24" cy="144.77" r="2.3"/><circle cx="106.87" cy="144.58" r="2.3"/><circle cx="111.50" cy="144.48" r="2.3"/><circle cx="116.14" cy="144.44" r="2.3"/><circle cx="120.77" cy="144.42" r="2.3"/><circle cx="125.40" cy="144.41" r="2.3"/><circle cx="130.03" cy="144.40" r="2.3"/><circle cx="134.66" cy="144.40" r="2.3"/><circle cx="139.29" cy="144.40" r="2.3"/><circle cx="143.92" cy="144.40" r="2.3"/><circle cx="148.55" cy="144.40" r="2.3"/><circle cx="153.18" cy="144.40" r="2.3"/><circle cx="157.81" cy="144.40" r="2.3"/><circle cx="162.44" cy="144.40" r="2.3"/><circle cx="167.07" cy="144.40" r="2.3"/><circle cx="171.70" cy="144.40" r="2.3"/><circle cx="176.33" cy="144.40" r="2.3"/><circle cx="180.96" cy="144.40" r="2.3"/><circle cx="185.59" cy="144.40" r="2.3"/><circle cx="190.22" cy="144.40" r="2.3"/><circle cx="194.85" cy="144.40" r="2.3"/><circle cx="199.48" cy="144.40" r="2.3"/><circle cx="204.12" cy="144.40" r="2.3"/><circle cx="208.75" cy="144.40" r="2.3"/><circle cx="213.38" cy="144.40" r="2.3"/></g>
<polyline points="65.20,275.50 65.20,275.48 65.20,275.42 65.21,275.33 65.21,275.19 65.22,275.02 65.23,274.81 65.25,274.56 65.26,274.27 65.28,273.95 65.29,273.59 65.31,273.19 65.33,272.76 65.36,272.29 65.38,271.78 65.41,271.24 65.44,270.66 65.47,270.05 65.50,269.41 65.53,268.73 65.57,268.02 65.61,267.28 65.65,266.50 65.69,265.70 65.73,264.86 65.78,264.00 65.83,263.11 65.88,262.19 65.93,261.24 65.98,260.27 66.03,259.27 66.09,258.24 66.15,257.19 66.21,256.12 66.27,255.03 66.33,253.91 66.40,252.78 66.47,251.62 66.54,250.45 66.61,249.25 66.68,248.04 66.76,246.82 66.83,245.58 66.91,244.32 66.99,243.05 67.08,241.77 67.16,240.48 67.25,239.17 67.33,237.86 67.42,236.54 67.52,235.21 67.61,233.87 67.70,232.53 67.80,231.18 67.90,229.83 68.00,228.47 68.10,227.11 68.21,225.75 68.32,224.39 68.42,223.02 68.53,221.66 68.65,220.30 68.76,218.94 68.88,217.59 68.99,216.23 69.11,214.88 69.23,213.54 69.36,212.20 69.48,210.87 69.61,209.55 69.74,208.23 69.87,206.92 70.00,205.62 70.14,204.33 70.27,203.05 70.41,201.78 70.55,200.53 70.69,199.28 70.83,198.04 70.98,196.82 71.13,195.61 71.28,194.41 71.43,193.23 71.58,192.06 71.73,190.91 71.89,189.77 72.05,188.64 72.21,187.53 72.37,186.44 72.54,185.36 72.70,184.29 72.87,183.25 73.04,182.22 73.21,181.20 73.38,180.21 73.56,179.23 73.73,178.26 73.91,177.32 74.09,176.39 74.28,175.47 74.46,174.58 74.65,173.70 74.84,172.84 75.02,172.00 75.22,171.17 75.41,170.36 75.61,169.57 75.80,168.79 76.00,168.04 76.20,167.29 76.41,166.57 76.61,165.86 76.82,165.17 77.03,164.49 77.24,163.84 77.45,163.19 77.66,162.57 77.88,161.95 78.10,161.36 78.31,160.78 78.54,160.21 78.76,159.66 78.98,159.13 79.21,158.61 79.44,158.10 79.67,157.61 79.90,157.13 80.14,156.67 80.37,156.22 80.61,155.78 80.85,155.35 81.09,154.94 81.34,154.54 81.58,154.16 81.83,153.78 82.08,153.42 82.33,153.06 82.58,152.72 82.84,152.39 83.09,152.08 83.35,151.77 83.61,151.47 83.87,151.18 84.14,150.90 84.40,150.64 84.67,150.38 84.94,150.13 85.21,149.89 85.49,149.65 85.76,149.43 86.04,149.21 86.32,149.00 86.60,148.80 86.88,148.61 87.16,148.43 87.45,148.25 87.74,148.07 88.03,147.91 88.32,147.75 88.61,147.60 88.91,147.45 89.21,147.31 89.50,147.18 89.81,147.05 90.11,146.92 90.41,146.80 90.72,146.69 91.03,146.58 91.34,146.48 91.65,146.38 91.96,146.28 92.28,146.19 92.60,146.10 92.92,146.02 93.24,145.94 93.56,145.86 93.89,145.79 94.21,145.72 94.54,145.65 94.87,145.59 95.21,145.52 95.54,145.47 95.88,145.41 96.21,145.36 96.55,145.31 96.90,145.26 97.24,145.21 97.58,145.17 97.93,145.13 98.28,145.09 98.63,145.05 98.99,145.02 99.34,144.98 99.70,144.95 100.05,144.92 100.41,144.89 100.78,144.86 101.14,144.84 101.51,144.81 101.87,144.79 102.24,144.77 102.62,144.75 102.99,144.73 103.36,144.71 103.74,144.69 104.12,144.67 104.50,144.66 104.88,144.64 105.27,144.63 105.65,144.61 106.04,144.60 106.43,144.59 106.82,144.58 107.22,144.57 107.61,144.56 108.01,144.55 108.41,144.54 108.81,144.53 109.21,144.52 109.62,144.51 110.02,144.51 110.43,144.50 110.84,144.49 111.25,144.49 111.67,144.48 112.08,144.48 112.50,144.47 112.92,144.47 113.34,144.46 113.77,144.46 114.19,144.46 114.62,144.45 115.05,144.45 115.48,144.45 115.91,144.44 116.34,144.44 116.78,144.44 117.22,144.43 117.66,144.43 118.10,144.43 118.54,144.43 118.99,144.43 119.44,144.42 119.89,144.42 120.34,144.42 120.79,144.42 121.24,144.42 121.70,144.42 122.16,144.42 122.62,144.41 123.08,144.41 123.55,144.41 124.01,144.41 124.48,144.41 124.95,144.41 125.42,144.41 125.89,144.41 126.37,144.41 126.84,144.41 127.32,144.41 127.80,144.41 128.29,144.41 128.77,144.41 129.26,144.41 129.75,144.40 130.24,144.40 130.73,144.40 131.22,144.40 131.72,144.40 132.21,144.40 132.71,144.40 133.21,144.40 133.72,144.40 134.22,144.40 134.73,144.40 135.24,144.40 135.75,144.40 136.26,144.40 136.77,144.40 137.29,144.40 137.81,144.40 138.33,144.40 138.85,144.40 139.37,144.40 139.90,144.40 140.42,144.40 140.95,144.40 141.48,144.40 142.01,144.40 142.55,144.40 143.09,144.40 143.62,144.40 144.16,144.40 144.70,144.40 145.25,144.40 145.79,144.40 146.34,144.40 146.89,144.40 147.44,144.40 147.99,144.40 148.55,144.40 149.11,144.40 149.66,144.40 150.22,144.40 150.79,144.40 151.35,144.40 151.92,144.40 152.48,144.40 153.05,144.40 153.62,144.40 154.20,144.40 154.77,144.40 155.35,144.40 155.93,144.40 156.51,144.40 157.09,144.40 157.68,144.40 158.26,144.40 158.85,144.40 159.44,144.40 160.03,144.40 160.63,144.40 161.22,144.40 161.82,144.40 162.42,144.40 163.02,144.40 163.62,144.40 164.23,144.40 164.83,144.40 165.44,144.40 166.05,144.40 166.66,144.40 167.28,144.40 167.89,144.40 168.51,144.40 169.13,144.40 169.75,144.40 170.38,144.40 171.00,144.40 171.63,144.40 172.26,144.40 172.89,144.40 173.52,144.40 174.15,144.40 174.79,144.40 175.43,144.40 176.07,144.40 176.71,144.40 177.35,144.40 178.00,144.40 178.65,144.40 179.30,144.40 179.95,144.40 180.60,144.40 181.26,144.40 181.91,144.40 182.57,144.40 183.23,144.40 183.89,144.40 184.56,144.40 185.22,144.40 185.89,144.40 186.56,144.40 187.23,144.40 187.90,144.40 188.58,144.40 189.26,144.40 189.94,144.40 190.62,144.40 191.30,144.40 191.98,144.40 192.67,144.40 193.36,144.40 194.05,144.40 194.74,144.40 195.43,144.40 196.13,144.40 196.83,144.40 197.52,144.40 198.23,144.40 198.93,144.40 199.63,144.40 200.34,144.40 201.05,144.40 201.76,144.40 202.47,144.40 203.19,144.40 203.90,144.40 204.62,144.40 205.34,144.40 206.06,144.40 206.78,144.40 207.51,144.40 208.24,144.40 208.96,144.40 209.69,144.40 210.43,144.40 211.16,144.40 211.90,144.40 212.64,144.40 213.38,144.40" fill="none" stroke="#2fa0e2" stroke-width="1.5"/>
<g fill="none" stroke="#30bcb2" stroke-width="0.55"><circle cx="65.20" cy="275.50" r="2.3"/><circle cx="65.30" cy="269.44" r="2.3"/><circle cx="65.41" cy="263.66" r="2.3"/><circle cx="65.51" cy="258.14" r="2.3"/><circle cx="65.61" cy="252.88" r="2.3"/><circle cx="65.71" cy="247.87" r="2.3"/><circle cx="65.81" cy="243.48" r="2.3"/><circle cx="65.92" cy="238.52" r="2.3"/><circle cx="66.13" cy="230.02" r="2.3"/><circle cx="66.33" cy="222.28" r="2.3"/><circle cx="66.42" cy="219.29" r="2.3"/><circle cx="66.54" cy="215.25" r="2.3"/><circle cx="66.74" cy="208.85" r="2.3"/><circle cx="67.03" cy="201.00" r="2.3"/><circle cx="67.26" cy="195.26" r="2.3"/><circle cx="67.63" cy="187.18" r="2.3"/><circle cx="67.77" cy="184.54" r="2.3"/><circle cx="68.24" cy="176.73" r="2.3"/><circle cx="68.85" cy="168.83" r="2.3"/><circle cx="69.46" cy="162.87" r="2.3"/><circle cx="69.83" cy="159.97" r="2.3"/><circle cx="70.07" cy="158.36" r="2.3"/><circle cx="70.68" cy="154.95" r="2.3"/><circle cx="71.29" cy="152.37" r="2.3"/><circle cx="71.89" cy="150.43" r="2.3"/><circle cx="72.50" cy="148.95" r="2.3"/><circle cx="73.11" cy="147.84" r="2.3"/><circle cx="73.72" cy="147.00" r="2.3"/><circle cx="74.33" cy="146.37" r="2.3"/><circle cx="74.46" cy="146.25" r="2.3"/><circle cx="74.94" cy="145.89" r="2.3"/><circle cx="79.09" cy="144.62" r="2.3"/><circle cx="83.72" cy="144.43" r="2.3"/><circle cx="88.35" cy="144.40" r="2.3"/><circle cx="92.98" cy="144.40" r="2.3"/><circle cx="97.61" cy="144.40" r="2.3"/><circle cx="102.24" cy="144.40" r="2.3"/><circle cx="106.87" cy="144.40" r="2.3"/><circle cx="111.50" cy="144.40" r="2.3"/><circle cx="116.14" cy="144.40" r="2.3"/><circle cx="120.77" cy="144.40" r="2.3"/><circle cx="125.40" cy="144.40" r="2.3"/><circle cx="130.03" cy="144.40" r="2.3"/><circle cx="134.66" cy="144.40" r="2.3"/><circle cx="139.29" cy="144.40" r="2.3"/><circle cx="143.92" cy="144.40" r="2.3"/><circle cx="148.55" cy="144.40" r="2.3"/><circle cx="153.18" cy="144.40" r="2.3"/><circle cx="157.81" cy="144.40" r="2.3"/><circle cx="162.44" cy="144.40" r="2.3"/><circle cx="167.07" cy="144.40" r="2.3"/><circle cx="171.70" cy="144.40" r="2.3"/><circle cx="176.33" cy="144.40" r="2.3"/><circle cx="180.96" cy="144.40" r="2.3"/><circle cx="185.59" cy="144.40" r="2.3"/><circle cx="190.22" cy="144.40" r="2.3"/><circle cx="194.85" cy="144.40" r="2.3"/><circle cx="199.48" cy="144.40" r="2.3"/><circle cx="204.12" cy="144.40" r="2.3"/><circle cx="208.75" cy="144.40" r="2.3"/><circle cx="213.38" cy="144.40" r="2.3"/></g>
<polyline points="65.20,275.50 65.20,275.44 65.20,275.28 65.21,275.00 65.21,274.61 65.22,274.11 65.23,273.50 65.25,272.79 65.26,271.97 65.28,271.05 65.29,270.03 65.31,268.91 65.33,267.70 65.36,266.39 65.38,265.00 65.41,263.52 65.44,261.95 65.47,260.31 65.50,258.60 65.53,256.81 65.57,254.96 65.61,253.04 65.65,251.07 65.69,249.05 65.73,246.97 65.78,244.85 65.83,242.69 65.88,240.50 65.93,238.27 65.98,236.02 66.03,233.75 66.09,231.45 66.15,229.15 66.21,226.83 66.27,224.51 66.33,222.19 66.40,219.87 66.47,217.56 66.54,215.26 66.61,212.97 66.68,210.70 66.76,208.46 66.83,206.23 66.91,204.03 66.99,201.86 67.08,199.72 67.16,197.62 67.25,195.55 67.33,193.52 67.42,191.53 67.52,189.59 67.61,187.68 67.70,185.83 67.80,184.01 67.90,182.25 68.00,180.53 68.10,178.86 68.21,177.24 68.32,175.67 68.42,174.15 68.53,172.68 68.65,171.26 68.76,169.89 68.88,168.57 68.99,167.29 69.11,166.07 69.23,164.89 69.36,163.76 69.48,162.68 69.61,161.64 69.74,160.65 69.87,159.71 70.00,158.80 70.14,157.94 70.27,157.12 70.41,156.33 70.55,155.59 70.69,154.88 70.83,154.21 70.98,153.58 71.13,152.98 71.28,152.41 71.43,151.87 71.58,151.36 71.73,150.89 71.89,150.44 72.05,150.01 72.21,149.61 72.37,149.24 72.54,148.89 72.70,148.56 72.87,148.25 73.04,147.96 73.21,147.69 73.38,147.44 73.56,147.20 73.73,146.98 73.91,146.78 74.09,146.59 74.28,146.41 74.46,146.25 74.65,146.10 74.84,145.96 75.02,145.83 75.22,145.71 75.41,145.60 75.61,145.49 75.80,145.40 76.00,145.31 76.20,145.23 76.41,145.16 76.61,145.09 76.82,145.03 77.03,144.97 77.24,144.92 77.45,144.87 77.66,144.82 77.88,144.78 78.10,144.75 78.31,144.71 78.54,144.68 78.76,144.66 78.98,144.63 79.21,144.61 79.44,144.59 79.67,144.57 79.90,144.55 80.14,144.54 80.37,144.52 80.61,144.51 80.85,144.50 81.09,144.49 81.34,144.48 81.58,144.47 81.83,144.46 82.08,144.46 82.33,144.45 82.58,144.44 82.84,144.44 83.09,144.43 83.35,144.43 83.61,144.43 83.87,144.42 84.14,144.42 84.40,144.42 84.67,144.42 84.94,144.41 85.21,144.41 85.49,144.41 85.76,144.41 86.04,144.41 86.32,144.41 86.60,144.41 86.88,144.41 87.16,144.41 87.45,144.40 87.74,144.40 88.03,144.40 88.32,144.40 88.61,144.40 88.91,144.40 89.21,144.40 89.50,144.40 89.81,144.40 90.11,144.40 90.41,144.40 90.72,144.40 91.03,144.40 91.34,144.40 91.65,144.40 91.96,144.40 92.28,144.40 92.60,144.40 92.92,144.40 93.24,144.40 93.56,144.40 93.89,144.40 94.21,144.40 94.54,144.40 94.87,144.40 95.21,144.40 95.54,144.40 95.88,144.40 96.21,144.40 96.55,144.40 96.90,144.40 97.24,144.40 97.58,144.40 97.93,144.40 98.28,144.40 98.63,144.40 98.99,144.40 99.34,144.40 99.70,144.40 100.05,144.40 100.41,144.40 100.78,144.40 101.14,144.40 101.51,144.40 101.87,144.40 102.24,144.40 102.62,144.40 102.99,144.40 103.36,144.40 103.74,144.40 104.12,144.40 104.50,144.40 104.88,144.40 105.27,144.40 105.65,144.40 106.04,144.40 106.43,144.40 106.82,144.40 107.22,144.40 107.61,144.40 108.01,144.40 108.41,144.40 108.81,144.40 109.21,144.40 109.62,144.40 110.02,144.40 110.43,144.40 110.84,144.40 111.25,144.40 111.67,144.40 112.08,144.40 112.50,144.40 112.92,144.40 113.34,144.40 113.77,144.40 114.19,144.40 114.62,144.40 115.05,144.40 115.48,144.40 115.91,144.40 116.34,144.40 116.78,144.40 117.22,144.40 117.66,144.40 118.10,144.40 118.54,144.40 118.99,144.40 119.44,144.40 119.89,144.40 120.34,144.40 120.79,144.40 121.24,144.40 121.70,144.40 122.16,144.40 122.62,144.40 123.08,144.40 123.55,144.40 124.01,144.40 124.48,144.40 124.95,144.40 125.42,144.40 125.89,144.40 126.37,144.40 126.84,144.40 127.32,144.40 127.80,144.40 128.29,144.40 128.77,144.40 129.26,144.40 129.75,144.40 130.24,144.40 130.73,144.40 131.22,144.40 131.72,144.40 132.21,144.40 132.71,144.40 133.21,144.40 133.72,144.40 134.22,144.40 134.73,144.40 135.24,144.40 135.75,144.40 136.26,144.40 136.77,144.40 137.29,144.40 137.81,144.40 138.33,144.40 138.85,144.40 139.37,144.40 139.90,144.40 140.42,144.40 140.95,144.40 141.48,144.40 142.01,144.40 142.55,144.40 143.09,144.40 143.62,144.40 144.16,144.40 144.70,144.40 145.25,144.40 145.79,144.40 146.34,144.40 146.89,144.40 147.44,144.40 147.99,144.40 148.55,144.40 149.11,144.40 149.66,144.40 150.22,144.40 150.79,144.40 151.35,144.40 151.92,144.40 152.48,144.40 153.05,144.40 153.62,144.40 154.20,144.40 154.77,144.40 155.35,144.40 155.93,144.40 156.51,144.40 157.09,144.40 157.68,144.40 158.26,144.40 158.85,144.40 159.44,144.40 160.03,144.40 160.63,144.40 161.22,144.40 161.82,144.40 162.42,144.40 163.02,144.40 163.62,144.40 164.23,144.40 164.83,144.40 165.44,144.40 166.05,144.40 166.66,144.40 167.28,144.40 167.89,144.40 168.51,144.40 169.13,144.40 169.75,144.40 170.38,144.40 171.00,144.40 171.63,144.40 172.26,144.40 172.89,144.40 173.52,144.40 174.15,144.40 174.79,144.40 175.43,144.40 176.07,144.40 176.71,144.40 177.35,144.40 178.00,144.40 178.65,144.40 179.30,144.40 179.95,144.40 180.60,144.40 181.26,144.40 181.91,144.40 182.57,144.40 183.23,144.40 183.89,144.40 184.56,144.40 185.22,144.40 185.89,144.40 186.56,144.40 187.23,144.40 187.90,144.40 188.58,144.40 189.26,144.40 189.94,144.40 190.62,144.40 191.30,144.40 191.98,144.40 192.67,144.40 193.36,144.40 194.05,144.40 194.74,144.40 195.43,144.40 196.13,144.40 196.83,144.40 197.52,144.40 198.23,144.40 198.93,144.40 199.63,144.40 200.34,144.40 201.05,144.40 201.76,144.40 202.47,144.40 203.19,144.40 203.90,144.40 204.62,144.40 205.34,144.40 206.06,144.40 206.78,144.40 207.51,144.40 208.24,144.40 208.96,144.40 209.69,144.40 210.43,144.40 211.16,144.40 211.90,144.40 212.64,144.40 213.38,144.40" fill="none" stroke="#30bcb2" stroke-width="1.5"/>
<g fill="none" stroke="#72c97a" stroke-width="0.55"><circle cx="65.20" cy="275.50" r="2.3"/><circle cx="65.30" cy="260.47" r="2.3"/><circle cx="65.41" cy="247.16" r="2.3"/><circle cx="65.44" cy="243.48" r="2.3"/><circle cx="65.51" cy="235.37" r="2.3"/><circle cx="65.61" cy="224.94" r="2.3"/><circle cx="65.67" cy="219.29" r="2.3"/><circle cx="65.71" cy="215.70" r="2.3"/><circle cx="65.91" cy="201.00" r="2.3"/><circle cx="65.92" cy="200.29" r="2.3"/><circle cx="66.13" cy="188.21" r="2.3"/><circle cx="66.15" cy="187.18" r="2.3"/><circle cx="66.33" cy="178.73" r="2.3"/><circle cx="66.38" cy="176.73" r="2.3"/><circle cx="66.54" cy="171.31" r="2.3"/><circle cx="66.62" cy="168.83" r="2.3"/><circle cx="66.74" cy="165.49" r="2.3"/><circle cx="66.86" cy="162.87" r="2.3"/><circle cx="67.09" cy="158.36" r="2.3"/><circle cx="67.26" cy="155.87" r="2.3"/><circle cx="67.33" cy="154.95" r="2.3"/><circle cx="67.57" cy="152.37" r="2.3"/><circle cx="67.77" cy="150.64" r="2.3"/><circle cx="67.80" cy="150.43" r="2.3"/><circle cx="68.04" cy="148.95" r="2.3"/><circle cx="68.28" cy="147.84" r="2.3"/><circle cx="68.51" cy="147.00" r="2.3"/><circle cx="68.75" cy="146.37" r="2.3"/><circle cx="68.98" cy="145.89" r="2.3"/><circle cx="69.83" cy="144.95" r="2.3"/><circle cx="74.46" cy="144.40" r="2.3"/><circle cx="79.09" cy="144.40" r="2.3"/><circle cx="83.72" cy="144.40" r="2.3"/><circle cx="88.35" cy="144.40" r="2.3"/><circle cx="92.98" cy="144.40" r="2.3"/><circle cx="97.61" cy="144.40" r="2.3"/><circle cx="102.24" cy="144.40" r="2.3"/><circle cx="106.87" cy="144.40" r="2.3"/><circle cx="111.50" cy="144.40" r="2.3"/><circle cx="116.14" cy="144.40" r="2.3"/><circle cx="120.77" cy="144.40" r="2.3"/><circle cx="125.40" cy="144.40" r="2.3"/><circle cx="130.03" cy="144.40" r="2.3"/><circle cx="134.66" cy="144.40" r="2.3"/><circle cx="139.29" cy="144.40" r="2.3"/><circle cx="143.92" cy="144.40" r="2.3"/><circle cx="148.55" cy="144.40" r="2.3"/><circle cx="153.18" cy="144.40" r="2.3"/><circle cx="157.81" cy="144.40" r="2.3"/><circle cx="162.44" cy="144.40" r="2.3"/><circle cx="167.07" cy="144.40" r="2.3"/><circle cx="171.70" cy="144.40" r="2.3"/><circle cx="176.33" cy="144.40" r="2.3"/><circle cx="180.96" cy="144.40" r="2.3"/><circle cx="185.59" cy="144.40" r="2.3"/><circle cx="190.22" cy="144.40" r="2.3"/><circle cx="194.85" cy="144.40" r="2.3"/><circle cx="199.48" cy="144.40" r="2.3"/><circle cx="204.12" cy="144.40" r="2.3"/><circle cx="208.75" cy="144.40" r="2.3"/><circle cx="213.38" cy="144.40" r="2.3"/></g>
<polyline points="65.20,275.50 65.20,275.36 65.20,274.93 65.21,274.21 65.21,273.22 65.22,271.96 65.23,270.43 65.25,268.64 65.26,266.62 65.28,264.36 65.29,261.89 65.31,259.21 65.33,256.36 65.36,253.33 65.38,250.15 65.41,246.84 65.44,243.42 65.47,239.90 65.50,236.31 65.53,232.66 65.57,228.96 65.61,225.25 65.65,221.52 65.69,217.81 65.73,214.12 65.78,210.48 65.83,206.89 65.88,203.36 65.93,199.91 65.98,196.55 66.03,193.28 66.09,190.12 66.15,187.07 66.21,184.13 66.27,181.32 66.33,178.63 66.40,176.07 66.47,173.63 66.54,171.32 66.61,169.15 66.68,167.09 66.76,165.16 66.83,163.36 66.91,161.67 66.99,160.10 67.08,158.64 67.16,157.29 67.25,156.04 67.33,154.89 67.42,153.83 67.52,152.86 67.61,151.97 67.70,151.17 67.80,150.43 67.90,149.76 68.00,149.16 68.10,148.61 68.21,148.12 68.32,147.68 68.42,147.29 68.53,146.93 68.65,146.62 68.76,146.34 68.88,146.09 68.99,145.87 69.11,145.68 69.23,145.51 69.36,145.36 69.48,145.22 69.61,145.11 69.74,145.01 69.87,144.92 70.00,144.85 70.14,144.78 70.27,144.72 70.41,144.68 70.55,144.63 70.69,144.60 70.83,144.57 70.98,144.54 71.13,144.52 71.28,144.50 71.43,144.48 71.58,144.47 71.73,144.46 71.89,144.45 72.05,144.44 72.21,144.43 72.37,144.43 72.54,144.42 72.70,144.42 72.87,144.41 73.04,144.41 73.21,144.41 73.38,144.41 73.56,144.41 73.73,144.41 73.91,144.40 74.09,144.40 74.28,144.40 74.46,144.40 74.65,144.40 74.84,144.40 75.02,144.40 75.22,144.40 75.41,144.40 75.61,144.40 75.80,144.40 76.00,144.40 76.20,144.40 76.41,144.40 76.61,144.40 76.82,144.40 77.03,144.40 77.24,144.40 77.45,144.40 77.66,144.40 77.88,144.40 78.10,144.40 78.31,144.40 78.54,144.40 78.76,144.40 78.98,144.40 79.21,144.40 79.44,144.40 79.67,144.40 79.90,144.40 80.14,144.40 80.37,144.40 80.61,144.40 80.85,144.40 81.09,144.40 81.34,144.40 81.58,144.40 81.83,144.40 82.08,144.40 82.33,144.40 82.58,144.40 82.84,144.40 83.09,144.40 83.35,144.40 83.61,144.40 83.87,144.40 84.14,144.40 84.40,144.40 84.67,144.40 84.94,144.40 85.21,144.40 85.49,144.40 85.76,144.40 86.04,144.40 86.32,144.40 86.60,144.40 86.88,144.40 87.16,144.40 87.45,144.40 87.74,144.40 88.03,144.40 88.32,144.40 88.61,144.40 88.91,144.40 89.21,144.40 89.50,144.40 89.81,144.40 90.11,144.40 90.41,144.40 90.72,144.40 91.03,144.40 91.34,144.40 91.65,144.40 91.96,144.40 92.28,144.40 92.60,144.40 92.92,144.40 93.24,144.40 93.56,144.40 93.89,144.40 94.21,144.40 94.54,144.40 94.87,144.40 95.21,144.40 95.54,144.40 95.88,144.40 96.21,144.40 96.55,144.40 96.90,144.40 97.24,144.40 97.58,144.40 97.93,144.40 98.28,144.40 98.63,144.40 98.99,144.40 99.34,144.40 99.70,144.40 100.05,144.40 100.41,144.40 100.78,144.40 101.14,144.40 101.51,144.40 101.87,144.40 102.24,144.40 102.62,144.40 102.99,144.40 103.36,144.40 103.74,144.40 104.12,144.40 104.50,144.40 104.88,144.40 105.27,144.40 105.65,144.40 106.04,144.40 106.43,144.40 106.82,144.40 107.22,144.40 107.61,144.40 108.01,144.40 108.41,144.40 108.81,144.40 109.21,144.40 109.62,144.40 110.02,144.40 110.43,144.40 110.84,144.40 111.25,144.40 111.67,144.40 112.08,144.40 112.50,144.40 112.92,144.40 113.34,144.40 113.77,144.40 114.19,144.40 114.62,144.40 115.05,144.40 115.48,144.40 115.91,144.40 116.34,144.40 116.78,144.40 117.22,144.40 117.66,144.40 118.10,144.40 118.54,144.40 118.99,144.40 119.44,144.40 119.89,144.40 120.34,144.40 120.79,144.40 121.24,144.40 121.70,144.40 122.16,144.40 122.62,144.40 123.08,144.40 123.55,144.40 124.01,144.40 124.48,144.40 124.95,144.40 125.42,144.40 125.89,144.40 126.37,144.40 126.84,144.40 127.32,144.40 127.80,144.40 128.29,144.40 128.77,144.40 129.26,144.40 129.75,144.40 130.24,144.40 130.73,144.40 131.22,144.40 131.72,144.40 132.21,144.40 132.71,144.40 133.21,144.40 133.72,144.40 134.22,144.40 134.73,144.40 135.24,144.40 135.75,144.40 136.26,144.40 136.77,144.40 137.29,144.40 137.81,144.40 138.33,144.40 138.85,144.40 139.37,144.40 139.90,144.40 140.42,144.40 140.95,144.40 141.48,144.40 142.01,144.40 142.55,144.40 143.09,144.40 143.62,144.40 144.16,144.40 144.70,144.40 145.25,144.40 145.79,144.40 146.34,144.40 146.89,144.40 147.44,144.40 147.99,144.40 148.55,144.40 149.11,144.40 149.66,144.40 150.22,144.40 150.79,144.40 151.35,144.40 151.92,144.40 152.48,144.40 153.05,144.40 153.62,144.40 154.20,144.40 154.77,144.40 155.35,144.40 155.93,144.40 156.51,144.40 157.09,144.40 157.68,144.40 158.26,144.40 158.85,144.40 159.44,144.40 160.03,144.40 160.63,144.40 161.22,144.40 161.82,144.40 162.42,144.40 163.02,144.40 163.62,144.40 164.23,144.40 164.83,144.40 165.44,144.40 166.05,144.40 166.66,144.40 167.28,144.40 167.89,144.40 168.51,144.40 169.13,144.40 169.75,144.40 170.38,144.40 171.00,144.40 171.63,144.40 172.26,144.40 172.89,144.40 173.52,144.40 174.15,144.40 174.79,144.40 175.43,144.40 176.07,144.40 176.71,144.40 177.35,144.40 178.00,144.40 178.65,144.40 179.30,144.40 179.95,144.40 180.60,144.40 181.26,144.40 181.91,144.40 182.57,144.40 183.23,144.40 183.89,144.40 184.56,144.40 185.22,144.40 185.89,144.40 186.56,144.40 187.23,144.40 187.90,144.40 188.58,144.40 189.26,144.40 189.94,144.40 190.62,144.40 191.30,144.40 191.98,144.40 192.67,144.40 193.36,144.40 194.05,144.40 194.74,144.40 195.43,144.40 196.13,144.40 196.83,144.40 197.52,144.40 198.23,144.40 198.93,144.40 199.63,144.40 200.34,144.40 201.05,144.40 201.76,144.40 202.47,144.40 203.19,144.40 203.90,144.40 204.62,144.40 205.34,144.40 206.06,144.40 206.78,144.40 207.51,144.40 208.24,144.40 208.96,144.40 209.69,144.40 210.43,144.40 211.16,144.40 211.90,144.40 212.64,144.40 213.38,144.40" fill="none" stroke="#72c97a" stroke-width="1.5"/>
<g fill="none" stroke="#c7bd3c" stroke-width="0.55"><circle cx="65.20" cy="275.50" r="2.3"/><circle cx="65.30" cy="246.36" r="2.3"/><circle cx="65.31" cy="243.48" r="2.3"/><circle cx="65.41" cy="223.69" r="2.3"/><circle cx="65.43" cy="219.29" r="2.3"/><circle cx="65.51" cy="206.07" r="2.3"/><circle cx="65.54" cy="201.00" r="2.3"/><circle cx="65.61" cy="192.36" r="2.3"/><circle cx="65.66" cy="187.18" r="2.3"/><circle cx="65.71" cy="181.70" r="2.3"/><circle cx="65.77" cy="176.73" r="2.3"/><circle cx="65.89" cy="168.83" r="2.3"/><circle cx="65.92" cy="166.96" r="2.3"/><circle cx="66.00" cy="162.87" r="2.3"/><circle cx="66.12" cy="158.36" r="2.3"/><circle cx="66.13" cy="158.04" r="2.3"/><circle cx="66.23" cy="154.95" r="2.3"/><circle cx="66.33" cy="152.65" r="2.3"/><circle cx="66.35" cy="152.37" r="2.3"/><circle cx="66.46" cy="150.43" r="2.3"/><circle cx="66.54" cy="149.39" r="2.3"/><circle cx="66.58" cy="148.95" r="2.3"/><circle cx="66.69" cy="147.84" r="2.3"/><circle cx="66.74" cy="147.42" r="2.3"/><circle cx="66.80" cy="147.00" r="2.3"/><circle cx="66.92" cy="146.37" r="2.3"/><circle cx="67.03" cy="145.89" r="2.3"/><circle cx="67.26" cy="145.26" r="2.3"/><circle cx="67.77" cy="144.64" r="2.3"/><circle cx="69.83" cy="144.40" r="2.3"/><circle cx="74.46" cy="144.40" r="2.3"/><circle cx="79.09" cy="144.40" r="2.3"/><circle cx="83.72" cy="144.40" r="2.3"/><circle cx="88.35" cy="144.40" r="2.3"/><circle cx="92.98" cy="144.40" r="2.3"/><circle cx="97.61" cy="144.40" r="2.3"/><circle cx="102.24" cy="144.40" r="2.3"/><circle cx="106.87" cy="144.40" r="2.3"/><circle cx="111.50" cy="144.40" r="2.3"/><circle cx="116.14" cy="144.40" r="2.3"/><circle cx="120.77" cy="144.40" r="2.3"/><circle cx="125.40" cy="144.40" r="2.3"/><circle cx="130.03" cy="144.40" r="2.3"/><circle cx="134.66" cy="144.40" r="2.3"/><circle cx="139.29" cy="144.40" r="2.3"/><circle cx="143.92" cy="144.40" r="2.3"/><circle cx="148.55" cy="144.40" r="2.3"/><circle cx="153.18" cy="144.40" r="2.3"/><circle cx="157.81" cy="144.40" r="2.3"/><circle cx="162.44" cy="144.40" r="2.3"/><circle cx="167.07" cy="144.40" r="2.3"/><circle cx="171.70" cy="144.40" r="2.3"/><circle cx="176.33" cy="144.40" r="2.3"/><circle cx="180.96" cy="144.40" r="2.3"/><circle cx="185.59" cy="144.40" r="2.3"/><circle cx="190.22" cy="144.40" r="2.3"/><circle cx="194.85" cy="144.40" r="2.3"/><circle cx="199.48" cy="144.40" r="2.3"/><circle cx="204.12" cy="144.40" r="2.3"/><circle cx="208.75" cy="144.40" r="2.3"/><circle cx="213.38" cy="144.40" r="2.3"/></g>
<polyline points="65.20,275.50 65.20,275.20 65.20,274.32 65.21,272.86 65.21,270.84 65.22,268.29 65.23,265.24 65.25,261.74 65.26,257.83 65.28,253.55 65.29,248.95 65.31,244.10 65.33,239.05 65.36,233.84 65.38,228.54 65.41,223.20 65.44,217.86 65.47,212.57 65.50,207.38 65.53,202.33 65.57,197.43 65.61,192.73 65.65,188.25 65.69,184.01 65.73,180.01 65.78,176.28 65.83,172.80 65.88,169.59 65.93,166.64 65.98,163.95 66.03,161.51 66.09,159.30 66.15,157.32 66.21,155.56 66.27,153.99 66.33,152.60 66.40,151.38 66.47,150.32 66.54,149.40 66.61,148.60 66.68,147.91 66.76,147.32 66.83,146.82 66.91,146.40 66.99,146.04 67.08,145.74 67.16,145.49 67.25,145.29 67.33,145.11 67.42,144.97 67.52,144.86 67.61,144.76 67.70,144.69 67.80,144.63 67.90,144.58 68.00,144.54 68.10,144.51 68.21,144.48 68.32,144.46 68.42,144.45 68.53,144.44 68.65,144.43 68.76,144.42 68.88,144.42 68.99,144.41 69.11,144.41 69.23,144.41 69.36,144.41 69.48,144.40 69.61,144.40 69.74,144.40 69.87,144.40 70.00,144.40 70.14,144.40 70.27,144.40 70.41,144.40 70.55,144.40 70.69,144.40 70.83,144.40 70.98,144.40 71.13,144.40 71.28,144.40 71.43,144.40 71.58,144.40 71.73,144.40 71.89,144.40 72.05,144.40 72.21,144.40 72.37,144.40 72.54,144.40 72.70,144.40 72.87,144.40 73.04,144.40 73.21,144.40 73.38,144.40 73.56,144.40 73.73,144.40 73.91,144.40 74.09,144.40 74.28,144.40 74.46,144.40 74.65,144.40 74.84,144.40 75.02,144.40 75.22,144.40 75.41,144.40 75.61,144.40 75.80,144.40 76.00,144.40 76.20,144.40 76.41,144.40 76.61,144.40 76.82,144.40 77.03,144.40 77.24,144.40 77.45,144.40 77.66,144.40 77.88,144.40 78.10,144.40 78.31,144.40 78.54,144.40 78.76,144.40 78.98,144.40 79.21,144.40 79.44,144.40 79.67,144.40 79.90,144.40 80.14,144.40 80.37,144.40 80.61,144.40 80.85,144.40 81.09,144.40 81.34,144.40 81.58,144.40 81.83,144.40 82.08,144.40 82.33,144.40 82.58,144.40 82.84,144.40 83.09,144.40 83.35,144.40 83.61,144.40 83.87,144.40 84.14,144.40 84.40,144.40 84.67,144.40 84.94,144.40 85.21,144.40 85.49,144.40 85.76,144.40 86.04,144.40 86.32,144.40 86.60,144.40 86.88,144.40 87.16,144.40 87.45,144.40 87.74,144.40 88.03,144.40 88.32,144.40 88.61,144.40 88.91,144.40 89.21,144.40 89.50,144.40 89.81,144.40 90.11,144.40 90.41,144.40 90.72,144.40 91.03,144.40 91.34,144.40 91.65,144.40 91.96,144.40 92.28,144.40 92.60,144.40 92.92,144.40 93.24,144.40 93.56,144.40 93.89,144.40 94.21,144.40 94.54,144.40 94.87,144.40 95.21,144.40 95.54,144.40 95.88,144.40 96.21,144.40 96.55,144.40 96.90,144.40 97.24,144.40 97.58,144.40 97.93,144.40 98.28,144.40 98.63,144.40 98.99,144.40 99.34,144.40 99.70,144.40 100.05,144.40 100.41,144.40 100.78,144.40 101.14,144.40 101.51,144.40 101.87,144.40 102.24,144.40 102.62,144.40 102.99,144.40 103.36,144.40 103.74,144.40 104.12,144.40 104.50,144.40 104.88,144.40 105.27,144.40 105.65,144.40 106.04,144.40 106.43,144.40 106.82,144.40 107.22,144.40 107.61,144.40 108.01,144.40 108.41,144.40 108.81,144.40 109.21,144.40 109.62,144.40 110.02,144.40 110.43,144.40 110.84,144.40 111.25,144.40 111.67,144.40 112.08,144.40 112.50,144.40 112.92,144.40 113.34,144.40 113.77,144.40 114.19,144.40 114.62,144.40 115.05,144.40 115.48,144.40 115.91,144.40 116.34,144.40 116.78,144.40 117.22,144.40 117.66,144.40 118.10,144.40 118.54,144.40 118.99,144.40 119.44,144.40 119.89,144.40 120.34,144.40 120.79,144.40 121.24,144.40 121.70,144.40 122.16,144.40 122.62,144.40 123.08,144.40 123.55,144.40 124.01,144.40 124.48,144.40 124.95,144.40 125.42,144.40 125.89,144.40 126.37,144.40 126.84,144.40 127.32,144.40 127.80,144.40 128.29,144.40 128.77,144.40 129.26,144.40 129.75,144.40 130.24,144.40 130.73,144.40 131.22,144.40 131.72,144.40 132.21,144.40 132.71,144.40 133.21,144.40 133.72,144.40 134.22,144.40 134.73,144.40 135.24,144.40 135.75,144.40 136.26,144.40 136.77,144.40 137.29,144.40 137.81,144.40 138.33,144.40 138.85,144.40 139.37,144.40 139.90,144.40 140.42,144.40 140.95,144.40 141.48,144.40 142.01,144.40 142.55,144.40 143.09,144.40 143.62,144.40 144.16,144.40 144.70,144.40 145.25,144.40 145.79,144.40 146.34,144.40 146.89,144.40 147.44,144.40 147.99,144.40 148.55,144.40 149.11,144.40 149.66,144.40 150.22,144.40 150.79,144.40 151.35,144.40 151.92,144.40 152.48,144.40 153.05,144.40 153.62,144.40 154.20,144.40 154.77,144.40 155.35,144.40 155.93,144.40 156.51,144.40 157.09,144.40 157.68,144.40 158.26,144.40 158.85,144.40 159.44,144.40 160.03,144.40 160.63,144.40 161.22,144.40 161.82,144.40 162.42,144.40 163.02,144.40 163.62,144.40 164.23,144.40 164.83,144.40 165.44,144.40 166.05,144.40 166.66,144.40 167.28,144.40 167.89,144.40 168.51,144.40 169.13,144.40 169.75,144.40 170.38,144.40 171.00,144.40 171.63,144.40 172.26,144.40 172.89,144.40 173.52,144.40 174.15,144.40 174.79,144.40 175.43,144.40 176.07,144.40 176.71,144.40 177.35,144.40 178.00,144.40 178.65,144.40 179.30,144.40 179.95,144.40 180.60,144.40 181.26,144.40 181.91,144.40 182.57,144.40 183.23,144.40 183.89,144.40 184.56,144.40 185.22,144.40 185.89,144.40 186.56,144.40 187.23,144.40 187.90,144.40 188.58,144.40 189.26,144.40 189.94,144.40 190.62,144.40 191.30,144.40 191.98,144.40 192.67,144.40 193.36,144.40 194.05,144.40 194.74,144.40 195.43,144.40 196.13,144.40 196.83,144.40 197.52,144.40 198.23,144.40 198.93,144.40 199.63,144.40 200.34,144.40 201.05,144.40 201.76,144.40 202.47,144.40 203.19,144.40 203.90,144.40 204.62,144.40 205.34,144.40 206.06,144.40 206.78,144.40 207.51,144.40 208.24,144.40 208.96,144.40 209.69,144.40 210.43,144.40 211.16,144.40 211.90,144.40 212.64,144.40 213.38,144.40" fill="none" stroke="#c7bd3c" stroke-width="1.5"/>
<g fill="none" stroke="#f7c33d" stroke-width="0.55"><circle cx="65.20" cy="275.50" r="2.3"/><circle cx="65.27" cy="243.48" r="2.3"/><circle cx="65.30" cy="232.42" r="2.3"/><circle cx="65.34" cy="219.29" r="2.3"/><circle cx="65.41" cy="203.50" r="2.3"/><circle cx="65.42" cy="201.00" r="2.3"/><circle cx="65.49" cy="187.18" r="2.3"/><circle cx="65.51" cy="184.08" r="2.3"/><circle cx="65.56" cy="176.73" r="2.3"/><circle cx="65.61" cy="171.04" r="2.3"/><circle cx="65.63" cy="168.83" r="2.3"/><circle cx="65.71" cy="162.87" r="2.3"/><circle cx="65.71" cy="162.28" r="2.3"/><circle cx="65.78" cy="158.36" r="2.3"/><circle cx="65.85" cy="154.95" r="2.3"/><circle cx="65.92" cy="152.46" r="2.3"/><circle cx="65.92" cy="152.37" r="2.3"/><circle cx="66.00" cy="150.43" r="2.3"/><circle cx="66.07" cy="148.95" r="2.3"/><circle cx="66.13" cy="148.03" r="2.3"/><circle cx="66.14" cy="147.84" r="2.3"/><circle cx="66.21" cy="147.00" r="2.3"/><circle cx="66.28" cy="146.37" r="2.3"/><circle cx="66.33" cy="146.04" r="2.3"/><circle cx="66.36" cy="145.89" r="2.3"/><circle cx="66.54" cy="145.14" r="2.3"/><circle cx="66.74" cy="144.73" r="2.3"/><circle cx="67.26" cy="144.45" r="2.3"/><circle cx="67.77" cy="144.41" r="2.3"/><circle cx="69.83" cy="144.40" r="2.3"/><circle cx="74.46" cy="144.40" r="2.3"/><circle cx="79.09" cy="144.40" r="2.3"/><circle cx="83.72" cy="144.40" r="2.3"/><circle cx="88.35" cy="144.40" r="2.3"/><circle cx="92.98" cy="144.40" r="2.3"/><circle cx="97.61" cy="144.40" r="2.3"/><circle cx="102.24" cy="144.40" r="2.3"/><circle cx="106.87" cy="144.40" r="2.3"/><circle cx="111.50" cy="144.40" r="2.3"/><circle cx="116.14" cy="144.40" r="2.3"/><circle cx="120.77" cy="144.40" r="2.3"/><circle cx="125.40" cy="144.40" r="2.3"/><circle cx="130.03" cy="144.40" r="2.3"/><circle cx="134.66" cy="144.40" r="2.3"/><circle cx="139.29" cy="144.40" r="2.3"/><circle cx="143.92" cy="144.40" r="2.3"/><circle cx="148.55" cy="144.40" r="2.3"/><circle cx="153.18" cy="144.40" r="2.3"/><circle cx="157.81" cy="144.40" r="2.3"/><circle cx="162.44" cy="144.40" r="2.3"/><circle cx="167.07" cy="144.40" r="2.3"/><circle cx="171.70" cy="144.40" r="2.3"/><circle cx="176.33" cy="144.40" r="2.3"/><circle cx="180.96" cy="144.40" r="2.3"/><circle cx="185.59" cy="144.40" r="2.3"/><circle cx="190.22" cy="144.40" r="2.3"/><circle cx="194.85" cy="144.40" r="2.3"/><circle cx="199.48" cy="144.40" r="2.3"/><circle cx="204.12" cy="144.40" r="2.3"/><circle cx="208.75" cy="144.40" r="2.3"/><circle cx="213.38" cy="144.40" r="2.3"/></g>
<polyline points="65.20,275.50 65.20,275.03 65.20,273.63 65.21,271.34 65.21,268.19 65.22,264.26 65.23,259.62 65.25,254.38 65.26,248.62 65.28,242.45 65.29,236.00 65.31,229.35 65.33,222.63 65.36,215.92 65.38,209.32 65.41,202.91 65.44,196.75 65.47,190.91 65.50,185.43 65.53,180.33 65.57,175.64 65.61,171.37 65.65,167.52 65.69,164.07 65.73,161.02 65.78,158.34 65.83,156.01 65.88,154.00 65.93,152.28 65.98,150.83 66.03,149.60 66.09,148.58 66.15,147.73 66.21,147.04 66.27,146.48 66.33,146.02 66.40,145.66 66.47,145.37 66.54,145.14 66.61,144.96 66.68,144.82 66.76,144.72 66.83,144.63 66.91,144.57 66.99,144.53 67.08,144.49 67.16,144.47 67.25,144.45 67.33,144.43 67.42,144.42 67.52,144.42 67.61,144.41 67.70,144.41 67.80,144.41 67.90,144.40 68.00,144.40 68.10,144.40 68.21,144.40 68.32,144.40 68.42,144.40 68.53,144.40 68.65,144.40 68.76,144.40 68.88,144.40 68.99,144.40 69.11,144.40 69.23,144.40 69.36,144.40 69.48,144.40 69.61,144.40 69.74,144.40 69.87,144.40 70.00,144.40 70.14,144.40 70.27,144.40 70.41,144.40 70.55,144.40 70.69,144.40 70.83,144.40 70.98,144.40 71.13,144.40 71.28,144.40 71.43,144.40 71.58,144.40 71.73,144.40 71.89,144.40 72.05,144.40 72.21,144.40 72.37,144.40 72.54,144.40 72.70,144.40 72.87,144.40 73.04,144.40 73.21,144.40 73.38,144.40 73.56,144.40 73.73,144.40 73.91,144.40 74.09,144.40 74.28,144.40 74.46,144.40 74.65,144.40 74.84,144.40 75.02,144.40 75.22,144.40 75.41,144.40 75.61,144.40 75.80,144.40 76.00,144.40 76.20,144.40 76.41,144.40 76.61,144.40 76.82,144.40 77.03,144.40 77.24,144.40 77.45,144.40 77.66,144.40 77.88,144.40 78.10,144.40 78.31,144.40 78.54,144.40 78.76,144.40 78.98,144.40 79.21,144.40 79.44,144.40 79.67,144.40 79.90,144.40 80.14,144.40 80.37,144.40 80.61,144.40 80.85,144.40 81.09,144.40 81.34,144.40 81.58,144.40 81.83,144.40 82.08,144.40 82.33,144.40 82.58,144.40 82.84,144.40 83.09,144.40 83.35,144.40 83.61,144.40 83.87,144.40 84.14,144.40 84.40,144.40 84.67,144.40 84.94,144.40 85.21,144.40 85.49,144.40 85.76,144.40 86.04,144.40 86.32,144.40 86.60,144.40 86.88,144.40 87.16,144.40 87.45,144.40 87.74,144.40 88.03,144.40 88.32,144.40 88.61,144.40 88.91,144.40 89.21,144.40 89.50,144.40 89.81,144.40 90.11,144.40 90.41,144.40 90.72,144.40 91.03,144.40 91.34,144.40 91.65,144.40 91.96,144.40 92.28,144.40 92.60,144.40 92.92,144.40 93.24,144.40 93.56,144.40 93.89,144.40 94.21,144.40 94.54,144.40 94.87,144.40 95.21,144.40 95.54,144.40 95.88,144.40 96.21,144.40 96.55,144.40 96.90,144.40 97.24,144.40 97.58,144.40 97.93,144.40 98.28,144.40 98.63,144.40 98.99,144.40 99.34,144.40 99.70,144.40 100.05,144.40 100.41,144.40 100.78,144.40 101.14,144.40 101.51,144.40 101.87,144.40 102.24,144.40 102.62,144.40 102.99,144.40 103.36,144.40 103.74,144.40 104.12,144.40 104.50,144.40 104.88,144.40 105.27,144.40 105.65,144.40 106.04,144.40 106.43,144.40 106.82,144.40 107.22,144.40 107.61,144.40 108.01,144.40 108.41,144.40 108.81,144.40 109.21,144.40 109.62,144.40 110.02,144.40 110.43,144.40 110.84,144.40 111.25,144.40 111.67,144.40 112.08,144.40 112.50,144.40 112.92,144.40 113.34,144.40 113.77,144.40 114.19,144.40 114.62,144.40 115.05,144.40 115.48,144.40 115.91,144.40 116.34,144.40 116.78,144.40 117.22,144.40 117.66,144.40 118.10,144.40 118.54,144.40 118.99,144.40 119.44,144.40 119.89,144.40 120.34,144.40 120.79,144.40 121.24,144.40 121.70,144.40 122.16,144.40 122.62,144.40 123.08,144.40 123.55,144.40 124.01,144.40 124.48,144.40 124.95,144.40 125.42,144.40 125.89,144.40 126.37,144.40 126.84,144.40 127.32,144.40 127.80,144.40 128.29,144.40 128.77,144.40 129.26,144.40 129.75,144.40 130.24,144.40 130.73,144.40 131.22,144.40 131.72,144.40 132.21,144.40 132.71,144.40 133.21,144.40 133.72,144.40 134.22,144.40 134.73,144.40 135.24,144.40 135.75,144.40 136.26,144.40 136.77,144.40 137.29,144.40 137.81,144.40 138.33,144.40 138.85,144.40 139.37,144.40 139.90,144.40 140.42,144.40 140.95,144.40 141.48,144.40 142.01,144.40 142.55,144.40 143.09,144.40 143.62,144.40 144.16,144.40 144.70,144.40 145.25,144.40 145.79,144.40 146.34,144.40 146.89,144.40 147.44,144.40 147.99,144.40 148.55,144.40 149.11,144.40 149.66,144.40 150.22,144.40 150.79,144.40 151.35,144.40 151.92,144.40 152.48,144.40 153.05,144.40 153.62,144.40 154.20,144.40 154.77,144.40 155.35,144.40 155.93,144.40 156.51,144.40 157.09,144.40 157.68,144.40 158.26,144.40 158.85,144.40 159.44,144.40 160.03,144.40 160.63,144.40 161.22,144.40 161.82,144.40 162.42,144.40 163.02,144.40 163.62,144.40 164.23,144.40 164.83,144.40 165.44,144.40 166.05,144.40 166.66,144.40 167.28,144.40 167.89,144.40 168.51,144.40 169.13,144.40 169.75,144.40 170.38,144.40 171.00,144.40 171.63,144.40 172.26,144.40 172.89,144.40 173.52,144.40 174.15,144.40 174.79,144.40 175.43,144.40 176.07,144.40 176.71,144.40 177.35,144.40 178.00,144.40 178.65,144.40 179.30,144.40 179.95,144.40 180.60,144.40 181.26,144.40 181.91,144.40 182.57,144.40 183.23,144.40 183.89,144.40 184.56,144.40 185.22,144.40 185.89,144.40 186.56,144.40 187.23,144.40 187.90,144.40 188.58,144.40 189.26,144.40 189.94,144.40 190.62,144.40 191.30,144.40 191.98,144.40 192.67,144.40 193.36,144.40 194.05,144.40 194.74,144.40 195.43,144.40 196.13,144.40 196.83,144.40 197.52,144.40 198.23,144.40 198.93,144.40 199.63,144.40 200.34,144.40 201.05,144.40 201.76,144.40 202.47,144.40 203.19,144.40 203.90,144.40 204.62,144.40 205.34,144.40 206.06,144.40 206.78,144.40 207.51,144.40 208.24,144.40 208.96,144.40 209.69,144.40 210.43,144.40 211.16,144.40 211.90,144.40 212.64,144.40 213.38,144.40" fill="none" stroke="#f7c33d" stroke-width="1.5"/>
<g fill="none" stroke="#f3f51f" stroke-width="0.55"><circle cx="65.20" cy="275.50" r="2.3"/><circle cx="65.26" cy="243.48" r="2.3"/><circle cx="65.30" cy="223.69" r="2.3"/><circle cx="65.31" cy="219.29" r="2.3"/><circle cx="65.37" cy="201.00" r="2.3"/><circle cx="65.41" cy="192.36" r="2.3"/><circle cx="65.43" cy="187.18" r="2.3"/><circle cx="65.49" cy="176.73" r="2.3"/><circle cx="65.51" cy="173.41" r="2.3"/><circle cx="65.54" cy="168.83" r="2.3"/><circle cx="65.60" cy="162.87" r="2.3"/><circle cx="65.61" cy="161.94" r="2.3"/><circle cx="65.66" cy="158.36" r="2.3"/><circle cx="65.71" cy="155.01" r="2.3"/><circle cx="65.72" cy="154.95" r="2.3"/><circle cx="65.77" cy="152.37" r="2.3"/><circle cx="65.83" cy="150.43" r="2.3"/><circle cx="65.89" cy="148.95" r="2.3"/><circle cx="65.92" cy="148.28" r="2.3"/><circle cx="65.94" cy="147.84" r="2.3"/><circle cx="66.00" cy="147.00" r="2.3"/><circle cx="66.06" cy="146.37" r="2.3"/><circle cx="66.12" cy="145.89" r="2.3"/><circle cx="66.13" cy="145.82" r="2.3"/><circle cx="66.33" cy="144.92" r="2.3"/><circle cx="66.54" cy="144.59" r="2.3"/><circle cx="66.74" cy="144.47" r="2.3"/><circle cx="67.26" cy="144.41" r="2.3"/><circle cx="67.77" cy="144.40" r="2.3"/><circle cx="69.83" cy="144.40" r="2.3"/><circle cx="74.46" cy="144.40" r="2.3"/><circle cx="79.09" cy="144.40" r="2.3"/><circle cx="83.72" cy="144.40" r="2.3"/><circle cx="88.35" cy="144.40" r="2.3"/><circle cx="92.98" cy="144.40" r="2.3"/><circle cx="97.61" cy="144.40" r="2.3"/><circle cx="102.24" cy="144.40" r="2.3"/><circle cx="106.87" cy="144.40" r="2.3"/><circle cx="111.50" cy="144.40" r="2.3"/><circle cx="116.14" cy="144.40" r="2.3"/><circle cx="120.77" cy="144.40" r="2.3"/><circle cx="125.40" cy="144.40" r="2.3"/><circle cx="130.03" cy="144.40" r="2.3"/><circle cx="134.66" cy="144.40" r="2.3"/><circle cx="139.29" cy="144.40" r="2.3"/><circle cx="143.92" cy="144.40" r="2.3"/><circle cx="148.55" cy="144.40" r="2.3"/><circle cx="153.18" cy="144.40" r="2.3"/><circle cx="157.81" cy="144.40" r="2.3"/><circle cx="162.44" cy="144.40" r="2.3"/><circle cx="167.07" cy="144.40" r="2.3"/><circle cx="171.70" cy="144.40" r="2.3"/><circle cx="176.33" cy="144.40" r="2.3"/><circle cx="180.96" cy="144.40" r="2.3"/><circle cx="185.59" cy="144.40" r="2.3"/><circle cx="190.22" cy="144.40" r="2.3"/><circle cx="194.85" cy="144.40" r="2.3"/><circle cx="199.48" cy="144.40" r="2.3"/><circle cx="204.12" cy="144.40" r="2.3"/><circle cx="208.75" cy="144.40" r="2.3"/><circle cx="213.38" cy="144.40" r="2.3"/></g>
<polyline points="65.20,275.50 65.20,274.91 65.20,273.15 65.21,270.27 65.21,266.34 65.22,261.48 65.23,255.79 65.25,249.43 65.26,242.54 65.28,235.27 65.29,227.78 65.31,220.22 65.33,212.73 65.36,205.42 65.38,198.40 65.41,191.76 65.44,185.56 65.47,179.85 65.50,174.66 65.53,169.99 65.57,165.85 65.61,162.22 65.65,159.07 65.69,156.37 65.73,154.07 65.78,152.15 65.83,150.55 65.88,149.24 65.93,148.17 65.98,147.32 66.03,146.63 66.09,146.09 66.15,145.67 66.21,145.35 66.27,145.10 66.33,144.91 66.40,144.77 66.47,144.67 66.54,144.59 66.61,144.53 66.68,144.49 66.76,144.47 66.83,144.44 66.91,144.43 66.99,144.42 67.08,144.41 67.16,144.41 67.25,144.41 67.33,144.40 67.42,144.40 67.52,144.40 67.61,144.40 67.70,144.40 67.80,144.40 67.90,144.40 68.00,144.40 68.10,144.40 68.21,144.40 68.32,144.40 68.42,144.40 68.53,144.40 68.65,144.40 68.76,144.40 68.88,144.40 68.99,144.40 69.11,144.40 69.23,144.40 69.36,144.40 69.48,144.40 69.61,144.40 69.74,144.40 69.87,144.40 70.00,144.40 70.14,144.40 70.27,144.40 70.41,144.40 70.55,144.40 70.69,144.40 70.83,144.40 70.98,144.40 71.13,144.40 71.28,144.40 71.43,144.40 71.58,144.40 71.73,144.40 71.89,144.40 72.05,144.40 72.21,144.40 72.37,144.40 72.54,144.40 72.70,144.40 72.87,144.40 73.04,144.40 73.21,144.40 73.38,144.40 73.56,144.40 73.73,144.40 73.91,144.40 74.09,144.40 74.28,144.40 74.46,144.40 74.65,144.40 74.84,144.40 75.02,144.40 75.22,144.40 75.41,144.40 75.61,144.40 75.80,144.40 76.00,144.40 76.20,144.40 76.41,144.40 76.61,144.40 76.82,144.40 77.03,144.40 77.24,144.40 77.45,144.40 77.66,144.40 77.88,144.40 78.10,144.40 78.31,144.40 78.54,144.40 78.76,144.40 78.98,144.40 79.21,144.40 79.44,144.40 79.67,144.40 79.90,144.40 80.14,144.40 80.37,144.40 80.61,144.40 80.85,144.40 81.09,144.40 81.34,144.40 81.58,144.40 81.83,144.40 82.08,144.40 82.33,144.40 82.58,144.40 82.84,144.40 83.09,144.40 83.35,144.40 83.61,144.40 83.87,144.40 84.14,144.40 84.40,144.40 84.67,144.40 84.94,144.40 85.21,144.40 85.49,144.40 85.76,144.40 86.04,144.40 86.32,144.40 86.60,144.40 86.88,144.40 87.16,144.40 87.45,144.40 87.74,144.40 88.03,144.40 88.32,144.40 88.61,144.40 88.91,144.40 89.21,144.40 89.50,144.40 89.81,144.40 90.11,144.40 90.41,144.40 90.72,144.40 91.03,144.40 91.34,144.40 91.65,144.40 91.96,144.40 92.28,144.40 92.60,144.40 92.92,144.40 93.24,144.40 93.56,144.40 93.89,144.40 94.21,144.40 94.54,144.40 94.87,144.40 95.21,144.40 95.54,144.40 95.88,144.40 96.21,144.40 96.55,144.40 96.90,144.40 97.24,144.40 97.58,144.40 97.93,144.40 98.28,144.40 98.63,144.40 98.99,144.40 99.34,144.40 99.70,144.40 100.05,144.40 100.41,144.40 100.78,144.40 101.14,144.40 101.51,144.40 101.87,144.40 102.24,144.40 102.62,144.40 102.99,144.40 103.36,144.40 103.74,144.40 104.12,144.40 104.50,144.40 104.88,144.40 105.27,144.40 105.65,144.40 106.04,144.40 106.43,144.40 106.82,144.40 107.22,144.40 107.61,144.40 108.01,144.40 108.41,144.40 108.81,144.40 109.21,144.40 109.62,144.40 110.02,144.40 110.43,144.40 110.84,144.40 111.25,144.40 111.67,144.40 112.08,144.40 112.50,144.40 112.92,144.40 113.34,144.40 113.77,144.40 114.19,144.40 114.62,144.40 115.05,144.40 115.48,144.40 115.91,144.40 116.34,144.40 116.78,144.40 117.22,144.40 117.66,144.40 118.10,144.40 118.54,144.40 118.99,144.40 119.44,144.40 119.89,144.40 120.34,144.40 120.79,144.40 121.24,144.40 121.70,144.40 122.16,144.40 122.62,144.40 123.08,144.40 123.55,144.40 124.01,144.40 124.48,144.40 124.95,144.40 125.42,144.40 125.89,144.40 126.37,144.40 126.84,144.40 127.32,144.40 127.80,144.40 128.29,144.40 128.77,144.40 129.26,144.40 129.75,144.40 130.24,144.40 130.73,144.40 131.22,144.40 131.72,144.40 132.21,144.40 132.71,144.40 133.21,144.40 133.72,144.40 134.22,144.40 134.73,144.40 135.24,144.40 135.75,144.40 136.26,144.40 136.77,144.40 137.29,144.40 137.81,144.40 138.33,144.40 138.85,144.40 139.37,144.40 139.90,144.40 140.42,144.40 140.95,144.40 141.48,144.40 142.01,144.40 142.55,144.40 143.09,144.40 143.62,144.40 144.16,144.40 144.70,144.40 145.25,144.40 145.79,144.40 146.34,144.40 146.89,144.40 147.44,144.40 147.99,144.40 148.55,144.40 149.11,144.40 149.66,144.40 150.22,144.40 150.79,144.40 151.35,144.40 151.92,144.40 152.48,144.40 153.05,144.40 153.62,144.40 154.20,144.40 154.77,144.40 155.35,144.40 155.93,144.40 156.51,144.40 157.09,144.40 157.68,144.40 158.26,144.40 158.85,144.40 159.44,144.40 160.03,144.40 160.63,144.40 161.22,144.40 161.82,144.40 162.42,144.40 163.02,144.40 163.62,144.40 164.23,144.40 164.83,144.40 165.44,144.40 166.05,144.40 166.66,144.40 167.28,144.40 167.89,144.40 168.51,144.40 169.13,144.40 169.75,144.40 170.38,144.40 171.00,144.40 171.63,144.40 172.26,144.40 172.89,144.40 173.52,144.40 174.15,144.40 174.79,144.40 175.43,144.40 176.07,144.40 176.71,144.40 177.35,144.40 178.00,144.40 178.65,144.40 179.30,144.40 179.95,144.40 180.60,144.40 181.26,144.40 181.91,144.40 182.57,144.40 183.23,144.40 183.89,144.40 184.56,144.40 185.22,144.40 185.89,144.40 186.56,144.40 187.23,144.40 187.90,144.40 188.58,144.40 189.26,144.40 189.94,144.40 190.62,144.40 191.30,144.40 191.98,144.40 192.67,144.40 193.36,144.40 194.05,144.40 194.74,144.40 195.43,144.40 196.13,144.40 196.83,144.40 197.52,144.40 198.23,144.40 198.93,144.40 199.63,144.40 200.34,144.40 201.05,144.40 201.76,144.40 202.47,144.40 203.19,144.40 203.90,144.40 204.62,144.40 205.34,144.40 206.06,144.40 206.78,144.40 207.51,144.40 208.24,144.40 208.96,144.40 209.69,144.40 210.43,144.40 211.16,144.40 211.90,144.40 212.64,144.40 213.38,144.40" fill="none" stroke="#f3f51f" stroke-width="1.5"/>
<rect x="246.4" y="144.3" width="109.0" height="105.2" fill="#fff" stroke="#7a7a7a" stroke-width="0.6"/>
<circle cx="259.4" cy="150.70" r="2.35" fill="none" stroke="#3e22c4" stroke-width="0.6"/>
<text class="S m" x="271.31" y="151.90" font-size="6.4" fill="#262626">I=1.00e-09 M, k</text>
<text class="S m" x="316.65" y="154.30" font-size="4.6" fill="#262626">obs</text>
<text class="S m" x="323.37" y="151.90" font-size="6.4" fill="#262626">=8.87e-06</text>
<circle cx="259.4" cy="162.20" r="2.35" fill="none" stroke="#3b3df2" stroke-width="0.6"/>
<text class="S m" x="271.31" y="163.40" font-size="6.4" fill="#262626">I=3.16e-09 M, k</text>
<text class="S m" x="316.65" y="165.80" font-size="4.6" fill="#262626">obs</text>
<text class="S m" x="323.36" y="163.40" font-size="6.4" fill="#262626">=2.83e-05</text>
<circle cx="259.4" cy="173.70" r="2.35" fill="none" stroke="#2f74ee" stroke-width="0.6"/>
<text class="S m" x="271.31" y="174.90" font-size="6.4" fill="#262626">I=1.00e-08 M, k</text>
<text class="S m" x="316.65" y="177.30" font-size="4.6" fill="#262626">obs</text>
<text class="S m" x="323.36" y="174.90" font-size="6.4" fill="#262626">=8.89e-05</text>
<circle cx="259.4" cy="185.20" r="2.35" fill="none" stroke="#2fa0e2" stroke-width="0.6"/>
<text class="S m" x="271.31" y="186.40" font-size="6.4" fill="#262626">I=3.16e-08 M, k</text>
<text class="S m" x="316.65" y="188.80" font-size="4.6" fill="#262626">obs</text>
<text class="S m" x="323.28" y="186.40" font-size="6.4" fill="#262626">=2.72e-04</text>
<circle cx="259.4" cy="196.70" r="2.35" fill="none" stroke="#30bcb2" stroke-width="0.6"/>
<text class="S m" x="271.31" y="197.90" font-size="6.4" fill="#262626">I=1.00e-07 M, k</text>
<text class="S m" x="316.65" y="200.30" font-size="4.6" fill="#262626">obs</text>
<text class="S m" x="323.28" y="197.90" font-size="6.4" fill="#262626">=7.89e-04</text>
<circle cx="259.4" cy="208.20" r="2.35" fill="none" stroke="#72c97a" stroke-width="0.6"/>
<text class="S m" x="271.31" y="209.40" font-size="6.4" fill="#262626">I=3.16e-07 M, k</text>
<text class="S m" x="316.65" y="211.80" font-size="4.6" fill="#262626">obs</text>
<text class="S m" x="323.37" y="209.40" font-size="6.4" fill="#262626">=2.03e-03</text>
<circle cx="259.4" cy="219.70" r="2.35" fill="none" stroke="#c7bd3c" stroke-width="0.6"/>
<text class="S m" x="271.31" y="220.90" font-size="6.4" fill="#262626">I=1.00e-06 M, k</text>
<text class="S m" x="316.65" y="223.30" font-size="4.6" fill="#262626">obs</text>
<text class="S m" x="323.37" y="220.90" font-size="6.4" fill="#262626">=4.19e-03</text>
<circle cx="259.4" cy="231.20" r="2.35" fill="none" stroke="#f7c33d" stroke-width="0.6"/>
<text class="S m" x="271.31" y="232.40" font-size="6.4" fill="#262626">I=3.16e-06 M, k</text>
<text class="S m" x="316.65" y="234.80" font-size="4.6" fill="#262626">obs</text>
<text class="S m" x="323.37" y="232.40" font-size="6.4" fill="#262626">=6.64e-03</text>
<circle cx="259.4" cy="242.70" r="2.35" fill="none" stroke="#f3f51f" stroke-width="0.6"/>
<text class="S m" x="271.31" y="243.90" font-size="6.4" fill="#262626">I=1.00e-05 M, k</text>
<text class="S m" x="316.65" y="246.30" font-size="4.6" fill="#262626">obs</text>
<text class="S m" x="323.37" y="243.90" font-size="6.4" fill="#262626">=8.38e-03</text>
<line x1="494.30" y1="151.80" x2="494.30" y2="260.70" stroke="#000" stroke-width="1.0"/>
<line x1="493.80" y1="260.20" x2="655.80" y2="260.20" stroke="#000" stroke-width="1.0"/>
<line x1="489.80" y1="260.20" x2="494.30" y2="260.20" stroke="#000" stroke-width="1.0"/>
<text class="S p" x="467.88" y="262.74" font-size="7.0" font-weight="bold" fill="#111" textLength="20.35" lengthAdjust="spacingAndGlyphs">0.000</text>
<line x1="489.80" y1="238.58" x2="494.30" y2="238.58" stroke="#000" stroke-width="1.0"/>
<text class="S p" x="467.88" y="241.12" font-size="7.0" font-weight="bold" fill="#111" textLength="20.34" lengthAdjust="spacingAndGlyphs">0.002</text>
<line x1="489.80" y1="216.96" x2="494.30" y2="216.96" stroke="#000" stroke-width="1.0"/>
<text class="S p" x="467.89" y="219.50" font-size="7.0" font-weight="bold" fill="#111" textLength="20.06" lengthAdjust="spacingAndGlyphs">0.004</text>
<line x1="489.80" y1="195.34" x2="494.30" y2="195.34" stroke="#000" stroke-width="1.0"/>
<text class="S p" x="467.88" y="197.88" font-size="7.0" font-weight="bold" fill="#111" textLength="20.30" lengthAdjust="spacingAndGlyphs">0.006</text>
<line x1="489.80" y1="173.72" x2="494.30" y2="173.72" stroke="#000" stroke-width="1.0"/>
<text class="S p" x="467.88" y="176.26" font-size="7.0" font-weight="bold" fill="#111" textLength="20.26" lengthAdjust="spacingAndGlyphs">0.008</text>
<line x1="489.80" y1="152.10" x2="494.30" y2="152.10" stroke="#000" stroke-width="1.0"/>
<text class="S p" x="467.88" y="154.64" font-size="7.0" font-weight="bold" fill="#111" textLength="20.35" lengthAdjust="spacingAndGlyphs">0.010</text>
<line x1="494.30" y1="260.20" x2="494.30" y2="264.30" stroke="#000" stroke-width="1.0"/>
<line x1="499.68" y1="260.20" x2="499.68" y2="262.60" stroke="#000" stroke-width="0.8"/>
<line x1="505.05" y1="260.20" x2="505.05" y2="262.60" stroke="#000" stroke-width="0.8"/>
<line x1="510.43" y1="260.20" x2="510.43" y2="262.60" stroke="#000" stroke-width="0.8"/>
<line x1="515.80" y1="260.20" x2="515.80" y2="262.60" stroke="#000" stroke-width="0.8"/>
<line x1="521.17" y1="260.20" x2="521.17" y2="262.60" stroke="#000" stroke-width="0.8"/>
<line x1="526.55" y1="260.20" x2="526.55" y2="262.60" stroke="#000" stroke-width="0.8"/>
<line x1="531.92" y1="260.20" x2="531.92" y2="262.60" stroke="#000" stroke-width="0.8"/>
<line x1="537.30" y1="260.20" x2="537.30" y2="262.60" stroke="#000" stroke-width="0.8"/>
<line x1="542.67" y1="260.20" x2="542.67" y2="262.60" stroke="#000" stroke-width="0.8"/>
<line x1="548.05" y1="260.20" x2="548.05" y2="264.30" stroke="#000" stroke-width="1.0"/>
<line x1="553.42" y1="260.20" x2="553.42" y2="262.60" stroke="#000" stroke-width="0.8"/>
<line x1="558.80" y1="260.20" x2="558.80" y2="262.60" stroke="#000" stroke-width="0.8"/>
<line x1="564.17" y1="260.20" x2="564.17" y2="262.60" stroke="#000" stroke-width="0.8"/>
<line x1="569.55" y1="260.20" x2="569.55" y2="262.60" stroke="#000" stroke-width="0.8"/>
<line x1="574.92" y1="260.20" x2="574.92" y2="262.60" stroke="#000" stroke-width="0.8"/>
<line x1="580.30" y1="260.20" x2="580.30" y2="262.60" stroke="#000" stroke-width="0.8"/>
<line x1="585.67" y1="260.20" x2="585.67" y2="262.60" stroke="#000" stroke-width="0.8"/>
<line x1="591.05" y1="260.20" x2="591.05" y2="262.60" stroke="#000" stroke-width="0.8"/>
<line x1="596.42" y1="260.20" x2="596.42" y2="262.60" stroke="#000" stroke-width="0.8"/>
<line x1="601.80" y1="260.20" x2="601.80" y2="264.30" stroke="#000" stroke-width="1.0"/>
<line x1="607.17" y1="260.20" x2="607.17" y2="262.60" stroke="#000" stroke-width="0.8"/>
<line x1="612.55" y1="260.20" x2="612.55" y2="262.60" stroke="#000" stroke-width="0.8"/>
<line x1="617.92" y1="260.20" x2="617.92" y2="262.60" stroke="#000" stroke-width="0.8"/>
<line x1="623.30" y1="260.20" x2="623.30" y2="262.60" stroke="#000" stroke-width="0.8"/>
<line x1="628.67" y1="260.20" x2="628.67" y2="262.60" stroke="#000" stroke-width="0.8"/>
<line x1="634.05" y1="260.20" x2="634.05" y2="262.60" stroke="#000" stroke-width="0.8"/>
<line x1="639.42" y1="260.20" x2="639.42" y2="262.60" stroke="#000" stroke-width="0.8"/>
<line x1="644.80" y1="260.20" x2="644.80" y2="262.60" stroke="#000" stroke-width="0.8"/>
<line x1="650.17" y1="260.20" x2="650.17" y2="262.60" stroke="#000" stroke-width="0.8"/>
<line x1="655.55" y1="260.20" x2="655.55" y2="264.30" stroke="#000" stroke-width="1.0"/>
<text class="S p" x="477.13" y="272.99" font-size="7.0" font-weight="bold" fill="#111" textLength="34.35" lengthAdjust="spacingAndGlyphs">0.000000</text>
<text class="S p" x="530.88" y="272.99" font-size="7.0" font-weight="bold" fill="#111" textLength="34.24" lengthAdjust="spacingAndGlyphs">0.000005</text>
<text class="S p" x="584.63" y="272.99" font-size="7.0" font-weight="bold" fill="#111" textLength="34.35" lengthAdjust="spacingAndGlyphs">0.000010</text>
<text class="S p" x="638.38" y="272.99" font-size="7.0" font-weight="bold" fill="#111" textLength="34.24" lengthAdjust="spacingAndGlyphs">0.000015</text>
<g transform="translate(459.9,214.5) rotate(-90)">
<text class="S" x="-0.59" y="0.00" font-size="8.2" font-weight="bold" fill="#000" textLength="4.78" lengthAdjust="spacingAndGlyphs">k</text>
<text class="S" x="4.02" y="1.90" font-size="5.6" font-weight="bold" fill="#000" textLength="12.77" lengthAdjust="spacingAndGlyphs">obs</text>
</g>
<text class="R R1" x="568.86" y="288.94" font-size="10" fill="#000">[</text>
<text class="R R1" x="573.15" y="288.90" font-size="10" font-style="italic" fill="#000">I</text>
<text class="R R1" x="577.51" y="288.94" font-size="10" fill="#000">]</text>
<polyline points="494.30,260.20 494.30,260.19 494.30,260.16 494.31,260.12 494.32,260.05 494.33,259.97 494.34,259.87 494.36,259.75 494.38,259.61 494.40,259.45 494.42,259.28 494.44,259.09 494.47,258.88 494.50,258.65 494.53,258.41 494.57,258.15 494.61,257.88 494.65,257.59 494.69,257.28 494.73,256.95 494.78,256.62 494.83,256.26 494.88,255.90 494.93,255.51 494.99,255.12 495.05,254.71 495.11,254.29 495.17,253.86 495.24,253.41 495.30,252.95 495.38,252.48 495.45,252.00 495.52,251.51 495.60,251.01 495.68,250.50 495.76,249.98 495.85,249.45 495.94,248.91 496.02,248.36 496.12,247.81 496.21,247.25 496.31,246.68 496.41,246.11 496.51,245.53 496.61,244.94 496.72,244.35 496.83,243.76 496.94,243.16 497.05,242.55 497.17,241.94 497.29,241.33 497.41,240.72 497.53,240.10 497.66,239.48 497.78,238.86 497.91,238.23 498.05,237.61 498.18,236.98 498.32,236.35 498.46,235.73 498.60,235.10 498.74,234.47 498.89,233.84 499.04,233.22 499.19,232.59 499.35,231.96 499.50,231.34 499.66,230.72 499.82,230.10 499.99,229.48 500.15,228.86 500.32,228.24 500.49,227.63 500.67,227.02 500.84,226.41 501.02,225.81 501.20,225.20 501.38,224.60 501.57,224.01 501.75,223.42 501.94,222.83 502.14,222.24 502.33,221.66 502.53,221.08 502.73,220.51 502.93,219.94 503.13,219.37 503.34,218.81 503.55,218.25 503.76,217.70 503.98,217.15 504.19,216.60 504.41,216.06 504.63,215.52 504.85,214.99 505.08,214.46 505.31,213.94 505.54,213.42 505.77,212.91 506.01,212.40 506.24,211.89 506.48,211.39 506.73,210.90 506.97,210.41 507.22,209.92 507.47,209.44 507.72,208.96 507.98,208.49 508.23,208.02 508.49,207.56 508.75,207.10 509.02,206.65 509.28,206.20 509.55,205.76 509.82,205.32 510.10,204.88 510.37,204.45 510.65,204.02 510.93,203.60 511.21,203.18 511.50,202.77 511.79,202.36 512.08,201.96 512.37,201.56 512.67,201.16 512.96,200.77 513.26,200.38 513.57,200.00 513.87,199.62 514.18,199.25 514.49,198.87 514.80,198.51 515.11,198.15 515.43,197.79 515.75,197.43 516.07,197.08 516.39,196.74 516.72,196.39 517.05,196.05 517.38,195.72 517.71,195.39 518.05,195.06 518.38,194.73 518.73,194.41 519.07,194.10 519.41,193.78 519.76,193.47 520.11,193.17 520.46,192.87 520.82,192.57 521.18,192.27 521.53,191.98 521.90,191.69 522.26,191.40 522.63,191.12 523.00,190.84 523.37,190.56 523.74,190.29 524.12,190.02 524.50,189.75 524.88,189.49 525.26,189.23 525.65,188.97 526.04,188.71 526.43,188.46 526.82,188.21 527.21,187.96 527.61,187.72 528.01,187.48 528.41,187.24 528.82,187.00 529.23,186.77 529.64,186.54 530.05,186.31 530.46,186.08 530.88,185.86 531.30,185.64 531.72,185.42 532.14,185.20 532.57,184.99 533.00,184.78 533.43,184.57 533.86,184.36 534.30,184.16 534.74,183.96 535.18,183.76 535.62,183.56 536.07,183.37 536.52,183.17 536.97,182.98 537.42,182.79 537.87,182.60 538.33,182.42 538.79,182.24 539.25,182.06 539.72,181.88 540.19,181.70 540.66,181.52 541.13,181.35 541.60,181.18 542.08,181.01 542.56,180.84 543.04,180.68 543.52,180.51 544.01,180.35 544.50,180.19 544.99,180.03 545.48,179.87 545.98,179.72 546.47,179.56 546.98,179.41 547.48,179.26 547.98,179.11 548.49,178.96 549.00,178.81 549.51,178.67 550.03,178.53 550.55,178.38 551.06,178.24 551.59,178.11 552.11,177.97 552.64,177.83 553.17,177.70 553.70,177.56 554.23,177.43 554.77,177.30 555.31,177.17 555.85,177.04 556.39,176.92 556.94,176.79 557.49,176.67 558.04,176.55 558.59,176.42 559.15,176.30 559.70,176.18 560.26,176.07 560.83,175.95 561.39,175.83 561.96,175.72 562.53,175.61 563.10,175.49 563.67,175.38 564.25,175.27 564.83,175.16 565.41,175.06 566.00,174.95 566.58,174.84 567.17,174.74 567.76,174.63 568.36,174.53 568.95,174.43 569.55,174.33 570.15,174.23 570.76,174.13 571.36,174.03 571.97,173.93 572.58,173.84 573.19,173.74 573.81,173.65 574.42,173.55 575.04,173.46 575.67,173.37 576.29,173.28 576.92,173.19 577.55,173.10 578.18,173.01 578.81,172.92 579.45,172.84 580.09,172.75 580.73,172.67 581.38,172.58 582.02,172.50 582.67,172.42 583.32,172.33 583.97,172.25 584.63,172.17 585.29,172.09 585.95,172.01 586.61,171.93 587.28,171.86 587.94,171.78 588.61,171.70 589.29,171.63 589.96,171.55 590.64,171.48 591.32,171.40 592.00,171.33 592.69,171.26 593.37,171.19 594.06,171.12 594.75,171.05 595.45,170.98 596.14,170.91 596.84,170.84 597.54,170.77 598.25,170.70 598.95,170.64 599.66,170.57 600.37,170.50 601.08,170.44 601.80,170.37" fill="none" stroke="#222" stroke-width="0.7"/>
<circle cx="494.31" cy="260.10" r="2.2" fill="#000"/>
<circle cx="494.33" cy="259.89" r="2.2" fill="#000"/>
<circle cx="494.41" cy="259.24" r="2.2" fill="#000"/>
<circle cx="494.64" cy="257.26" r="2.2" fill="#000"/>
<circle cx="495.38" cy="251.67" r="2.2" fill="#000"/>
<circle cx="497.70" cy="238.26" r="2.2" fill="#000"/>
<circle cx="505.05" cy="214.91" r="2.2" fill="#000"/>
<circle cx="528.27" cy="188.42" r="2.2" fill="#000"/>
<circle cx="601.80" cy="169.61" r="2.2" fill="#000"/>
<line x1="386.80" y1="207.40" x2="423.50" y2="207.40" stroke="#333" stroke-width="0.9"/>
<polygon points="422.9,203.4 430.2,207.2 422.9,211.0" fill="#000"/>
<text class="S" x="113.42" y="324.00" font-size="18" fill="#000" textLength="76.38" lengthAdjust="spacingAndGlyphs">Raw data</text>
<text class="R" x="124.76" y="0" font-size="14" fill="#000" transform="translate(0,344.83) scale(1,1.1042)">[</text>
<text class="R R1" x="130.34" y="344.60" font-size="13" font-style="italic" fill="#000" textLength="7.14" lengthAdjust="spacingAndGlyphs">E</text>
<text class="R R1" x="138.04" y="344.60" font-size="13" font-style="italic" fill="#000" textLength="3.53" lengthAdjust="spacingAndGlyphs">I</text>
<text class="R R1" x="142.48" y="341.19" font-size="9" fill="#000" textLength="6.42" lengthAdjust="spacingAndGlyphs">*</text>
<text class="R" x="149.00" y="0" font-size="14" fill="#000" transform="translate(0,344.83) scale(1,1.1042)">]</text>
<line x1="125.00" y1="349.90" x2="153.90" y2="349.90" stroke="#000" stroke-width="1.1"/>
<text class="R" x="127.16" y="0" font-size="14" fill="#000" transform="translate(0,364.76) scale(1,1.0870)">[</text>
<text class="R R1" x="132.15" y="364.20" font-size="13" font-style="italic" fill="#000" textLength="7.65" lengthAdjust="spacingAndGlyphs">E</text>
<text class="R R1" x="140.37" y="359.94" font-size="9" font-style="italic" fill="#000" textLength="5.66" lengthAdjust="spacingAndGlyphs">o</text>
<text class="R" x="147.50" y="0" font-size="14" fill="#000" transform="translate(0,364.76) scale(1,1.0870)">]</text>
<text class="S" x="158.26" y="355.00" font-size="16" fill="#000" textLength="14.88" lengthAdjust="spacingAndGlyphs">vs</text>
<text class="R R1" x="175.47" y="355.00" font-size="17" font-style="italic" fill="#000">t</text>
<text class="S" x="62.95" y="384.00" font-size="18" fill="#000">One-phase association</text>
<text class="R R1" x="88.91" y="406.50" font-size="18" font-style="italic" fill="#000" textLength="11.63" lengthAdjust="spacingAndGlyphs">Y</text>
<line x1="106.50" y1="400.50" x2="117.70" y2="400.50" stroke="#000" stroke-width="0.95"/>
<line x1="106.50" y1="405.30" x2="117.70" y2="405.30" stroke="#000" stroke-width="0.95"/>
<text class="R R1" x="124.15" y="406.50" font-size="18" fill="#000" textLength="10.06" lengthAdjust="spacingAndGlyphs">1</text>
<line x1="139.20" y1="400.60" x2="151.40" y2="400.60" stroke="#000" stroke-width="1.1"/>
<text class="R R1" x="155.95" y="406.50" font-size="18" font-style="italic" fill="#000" textLength="8.15" lengthAdjust="spacingAndGlyphs">e</text>
<line x1="165.70" y1="396.20" x2="174.90" y2="396.20" stroke="#000" stroke-width="0.9"/>
<text class="R R1" x="175.54" y="399.70" font-size="13.5" font-style="italic" fill="#000" textLength="7.31" lengthAdjust="spacingAndGlyphs">k</text>
<text class="R R1" x="184.13" y="401.80" font-size="11.5" font-style="italic" fill="#000" textLength="17.76" lengthAdjust="spacingAndGlyphs">obs</text>
<text class="R R1" x="203.57" y="402.05" font-size="10" fill="#000" textLength="5.56" lengthAdjust="spacingAndGlyphs">*</text>
<text class="R R1" x="210.11" y="399.70" font-size="12.5" font-style="italic" fill="#000" textLength="7.30" lengthAdjust="spacingAndGlyphs">X</text>
<text class="R R1" x="524.56" y="347.10" font-size="17.3" font-style="italic" fill="#000" textLength="10.20" lengthAdjust="spacingAndGlyphs">k</text>
<text class="R R1" x="535.12" y="351.00" font-size="13" fill="#000" textLength="17.52" lengthAdjust="spacingAndGlyphs">obs</text>
<text class="S" x="557.35" y="347.10" font-size="17.5" fill="#000" textLength="18.11" lengthAdjust="spacingAndGlyphs">vs</text>
<text class="R R1" x="581.11" y="346.75" font-size="17.5" fill="#000">[</text>
<text class="R R1" x="587.07" y="347.10" font-size="17.5" font-style="italic" fill="#000" textLength="6.18" lengthAdjust="spacingAndGlyphs">I</text>
<text class="R R1" x="593.87" y="346.75" font-size="17.5" fill="#000">]</text>
<text class="S" x="453.51" y="383.50" font-size="18" fill="#000" textLength="217.56" lengthAdjust="spacingAndGlyphs">Michaelis-Menton equation</text>
<text class="R R1" x="519.42" y="416.30" font-size="18" font-style="italic" fill="#000" textLength="10.50" lengthAdjust="spacingAndGlyphs">Y</text>
<line x1="537.20" y1="409.40" x2="548.30" y2="409.40" stroke="#000" stroke-width="1.1"/>
<line x1="537.20" y1="414.30" x2="548.30" y2="414.30" stroke="#000" stroke-width="1.1"/>
<line x1="554.50" y1="415.70" x2="605.80" y2="415.70" stroke="#000" stroke-width="1.15"/>
<text class="R R1" x="555.36" y="407.30" font-size="17" font-style="italic" fill="#000" textLength="8.55" lengthAdjust="spacingAndGlyphs">k</text>
<text class="R R1" x="565.33" y="411.50" font-size="12.5" fill="#000" textLength="25.34" lengthAdjust="spacingAndGlyphs">inact</text>
<text class="R R1" x="593.92" y="407.30" font-size="17" font-style="italic" fill="#000" textLength="9.37" lengthAdjust="spacingAndGlyphs">X</text>
<text class="R R1" x="555.42" y="432.70" font-size="17" font-style="italic" fill="#000" textLength="12.19" lengthAdjust="spacingAndGlyphs">K</text>
<text class="R R1" x="566.34" y="437.20" font-size="12" font-style="italic" fill="#000" textLength="3.71" lengthAdjust="spacingAndGlyphs">I</text>
<line x1="576.70" y1="427.40" x2="588.50" y2="427.40" stroke="#000" stroke-width="1.1"/>
<line x1="582.60" y1="421.50" x2="582.60" y2="433.30" stroke="#000" stroke-width="1.1"/>
<text class="R R1" x="593.92" y="432.70" font-size="17" font-style="italic" fill="#000" textLength="9.37" lengthAdjust="spacingAndGlyphs">X</text>
<rect x="32.10" y="456.10" width="455.50" height="26.90" fill="#dae3f3"/>
<rect x="487.60" y="456.10" width="196.40" height="26.90" fill="#e2f0d9"/>
<rect x="32.10" y="483.00" width="455.50" height="60.60" fill="#b4c7e7"/>
<rect x="487.60" y="483.00" width="196.40" height="60.60" fill="#c5e0b4"/>
<rect x="32.10" y="543.60" width="455.50" height="135.70" fill="#dae3f3"/>
<rect x="487.60" y="543.60" width="196.40" height="135.70" fill="#e2f0d9"/>
<rect x="32.10" y="679.30" width="455.50" height="113.70" fill="#b4c7e7"/>
<rect x="487.60" y="679.30" width="196.40" height="113.70" fill="#c5e0b4"/>
<text class="S" x="211.74" y="474.10" font-size="13" font-weight="bold" fill="#000" textLength="174.99" lengthAdjust="spacingAndGlyphs">Simulation input parameters</text>
<text class="S" x="546.44" y="474.10" font-size="13" font-weight="bold" fill="#000">Fitting result</text>
<text class="R R1" x="131.43" y="509.60" font-size="14.5" font-style="italic" fill="#000" textLength="7.41" lengthAdjust="spacingAndGlyphs">k</text>
<text class="R R1" x="139.47" y="513.60" font-size="11" fill="#000" textLength="11.40" lengthAdjust="spacingAndGlyphs">on</text>
<text class="S" x="119.75" y="529.40" font-size="12.50" textLength="16.06" lengthAdjust="spacingAndGlyphs">(M</text>
<text class="S" x="135.80" y="524.40" font-size="7.75" textLength="7.59" lengthAdjust="spacingAndGlyphs">-1</text>
<text class="S" x="143.39" y="529.40" font-size="12.50" textLength="6.88" lengthAdjust="spacingAndGlyphs">s</text>
<text class="S" x="150.28" y="524.40" font-size="7.75" textLength="7.59" lengthAdjust="spacingAndGlyphs">-1</text>
<text class="S" x="157.87" y="529.40" font-size="12.50" textLength="4.59" lengthAdjust="spacingAndGlyphs">)</text>
<text class="R R1" x="194.83" y="509.60" font-size="14.5" font-style="italic" fill="#000" textLength="7.41" lengthAdjust="spacingAndGlyphs">k</text>
<text class="R R1" x="202.59" y="513.60" font-size="11" fill="#000" textLength="12.30" lengthAdjust="spacingAndGlyphs">off</text>
<text class="S" x="192.54" y="529.40" font-size="12.50" textLength="11.50" lengthAdjust="spacingAndGlyphs">(s</text>
<text class="S" x="204.05" y="524.40" font-size="7.75" textLength="7.61" lengthAdjust="spacingAndGlyphs">-1</text>
<text class="S" x="211.66" y="529.40" font-size="12.50" textLength="4.60" lengthAdjust="spacingAndGlyphs">)</text>
<text class="R R1" x="253.30" y="510.00" font-size="14.5" font-style="italic" fill="#000" textLength="7.93" lengthAdjust="spacingAndGlyphs">k</text>
<text class="S" x="261.10" y="513.80" font-size="10" fill="#000" textLength="22.38" lengthAdjust="spacingAndGlyphs">inact</text>
<text class="S" x="257.21" y="529.40" font-size="12.50" textLength="11.92" lengthAdjust="spacingAndGlyphs">(s</text>
<text class="S" x="269.13" y="524.40" font-size="7.75" textLength="7.89" lengthAdjust="spacingAndGlyphs">-1</text>
<text class="S" x="277.02" y="529.40" font-size="12.50" textLength="4.77" lengthAdjust="spacingAndGlyphs">)</text>
<text class="R R1" x="307.32" y="507.70" font-size="12.4" font-style="italic" fill="#000" textLength="6.74" lengthAdjust="spacingAndGlyphs">K</text>
<text class="R R1" x="314.42" y="509.70" font-size="8" font-style="italic" fill="#000" textLength="1.94" lengthAdjust="spacingAndGlyphs">I</text>
<line x1="321.70" y1="502.70" x2="328.90" y2="502.70" stroke="#000" stroke-width="0.8"/>
<line x1="321.70" y1="505.80" x2="328.90" y2="505.80" stroke="#000" stroke-width="0.8"/>
<line x1="333.10" y1="506.10" x2="385.10" y2="506.10" stroke="#000" stroke-width="1.0"/>
<text class="R R1" x="333.12" y="501.50" font-size="12.4" font-style="italic" fill="#000" textLength="6.08" lengthAdjust="spacingAndGlyphs">k</text>
<text class="R R1" x="339.28" y="503.50" font-size="8.5" fill="#000" textLength="9.61" lengthAdjust="spacingAndGlyphs">off</text>
<line x1="351.90" y1="498.50" x2="359.10" y2="498.50" stroke="#000" stroke-width="0.8"/>
<line x1="355.50" y1="494.90" x2="355.50" y2="502.10" stroke="#000" stroke-width="0.8"/>
<text class="R R1" x="362.74" y="501.50" font-size="12.4" font-style="italic" fill="#000" textLength="5.66" lengthAdjust="spacingAndGlyphs">k</text>
<text class="R R1" x="368.83" y="503.50" font-size="8.5" fill="#000" textLength="15.92" lengthAdjust="spacingAndGlyphs">inact</text>
<text class="R R1" x="351.52" y="517.60" font-size="12.4" font-style="italic" fill="#000" textLength="6.08" lengthAdjust="spacingAndGlyphs">k</text>
<text class="R R1" x="357.63" y="520.20" font-size="8.5" font-style="italic" fill="#000" textLength="9.14" lengthAdjust="spacingAndGlyphs">on</text>
<text class="S" x="335.66" y="529.40" font-size="12.50" textLength="20.39" lengthAdjust="spacingAndGlyphs">(M)</text>
<text class="R R1" x="409.48" y="506.70" font-size="12.4" font-style="italic" fill="#000" textLength="6.69" lengthAdjust="spacingAndGlyphs">k</text>
<text class="S" x="416.57" y="509.60" font-size="9" fill="#000" textLength="8.51" lengthAdjust="spacingAndGlyphs">eff</text>
<line x1="430.10" y1="502.80" x2="438.00" y2="502.80" stroke="#000" stroke-width="0.8"/>
<line x1="430.10" y1="506.10" x2="438.00" y2="506.10" stroke="#000" stroke-width="0.8"/>
<line x1="442.60" y1="506.10" x2="467.70" y2="506.10" stroke="#000" stroke-width="1.0"/>
<text class="R R1" x="442.78" y="499.70" font-size="12.4" font-style="italic" fill="#000" textLength="6.59" lengthAdjust="spacingAndGlyphs">k</text>
<text class="R R1" x="450.01" y="503.00" font-size="8.5" fill="#000" textLength="17.54" lengthAdjust="spacingAndGlyphs">inact</text>
<text class="R R1" x="449.74" y="519.00" font-size="12.4" font-style="italic" fill="#000" textLength="7.58" lengthAdjust="spacingAndGlyphs">K</text>
<text class="R R1" x="458.23" y="519.54" font-size="8" font-style="italic" fill="#000" textLength="2.21" lengthAdjust="spacingAndGlyphs">I</text>
<text class="S" x="417.86" y="529.40" font-size="12.50" textLength="15.78" lengthAdjust="spacingAndGlyphs">(M</text>
<text class="S" x="433.64" y="524.40" font-size="7.75" textLength="7.46" lengthAdjust="spacingAndGlyphs">-1</text>
<text class="S" x="441.10" y="529.40" font-size="12.50" textLength="6.77" lengthAdjust="spacingAndGlyphs">s</text>
<text class="S" x="447.87" y="524.40" font-size="7.75" textLength="7.46" lengthAdjust="spacingAndGlyphs">-1</text>
<text class="S" x="455.33" y="529.40" font-size="12.50" textLength="4.51" lengthAdjust="spacingAndGlyphs">)</text>
<text class="R R1" x="505.59" y="509.70" font-size="14.5" font-style="italic" fill="#000" textLength="8.03" lengthAdjust="spacingAndGlyphs">k</text>
<text class="R R1" x="514.37" y="513.60" font-size="11" fill="#000" textLength="21.49" lengthAdjust="spacingAndGlyphs">inact</text>
<text class="S" x="509.05" y="529.40" font-size="12.50" textLength="11.45" lengthAdjust="spacingAndGlyphs">(s</text>
<text class="S" x="520.50" y="524.40" font-size="7.75" textLength="7.58" lengthAdjust="spacingAndGlyphs">-1</text>
<text class="S" x="528.08" y="529.40" font-size="12.50" textLength="4.58" lengthAdjust="spacingAndGlyphs">)</text>
<text class="R R1" x="579.78" y="509.70" font-size="14.5" font-style="italic" fill="#000" textLength="9.79" lengthAdjust="spacingAndGlyphs">K</text>
<text class="R R1" x="590.23" y="513.40" font-size="9.5" font-style="italic" fill="#000" textLength="2.56" lengthAdjust="spacingAndGlyphs">I</text>
<text class="S" x="576.23" y="529.40" font-size="12.50" textLength="21.04" lengthAdjust="spacingAndGlyphs">(M)</text>
<text class="R R1" x="641.77" y="509.90" font-size="14.5" font-style="italic" fill="#000" textLength="8.34" lengthAdjust="spacingAndGlyphs">k</text>
<text class="S" x="650.16" y="513.20" font-size="10" fill="#000" textLength="11.52" lengthAdjust="spacingAndGlyphs">eff</text>
<text class="S" x="630.55" y="529.40" font-size="12.50" textLength="15.90" lengthAdjust="spacingAndGlyphs">(M</text>
<text class="S" x="646.45" y="524.40" font-size="7.75" textLength="7.52" lengthAdjust="spacingAndGlyphs">-1</text>
<text class="S" x="653.97" y="529.40" font-size="12.50" textLength="6.82" lengthAdjust="spacingAndGlyphs">s</text>
<text class="S" x="660.79" y="524.40" font-size="7.75" textLength="7.52" lengthAdjust="spacingAndGlyphs">-1</text>
<text class="S" x="668.30" y="529.40" font-size="12.50" textLength="4.54" lengthAdjust="spacingAndGlyphs">)</text>
<text class="S" x="41.94" y="608.70" font-size="13" font-weight="bold" fill="#000">Fragment</text>
<text class="S" x="35.17" y="623.30" font-size="13" font-weight="bold" fill="#000" textLength="72.56" lengthAdjust="spacingAndGlyphs">(Ki = 10 μM)</text>
<text class="S" x="45.24" y="732.50" font-size="13" font-weight="bold" fill="#000" textLength="52.35" lengthAdjust="spacingAndGlyphs">Inhibitor</text>
<text class="S" x="34.86" y="747.10" font-size="13" font-weight="bold" fill="#000">(Ki = 10 nM)</text>
<text class="S" x="115.02" y="559.60" font-size="13" fill="#000">1.00E+05</text>
<text class="S" x="229.00" y="559.60" font-size="13" fill="#000">1</text>
<text class="S" x="275.53" y="559.60" font-size="13" fill="#ff0000">0.01</text>
<text class="S" x="336.68" y="559.60" font-size="13" fill="#7030a0">1.01E-05</text>
<text class="S" x="431.03" y="559.60" font-size="13" fill="#6a6af0">9.90E+02</text>
<text class="S" x="527.43" y="559.60" font-size="13" fill="#ff0000">0.01</text>
<text class="S" x="558.64" y="559.60" font-size="13" fill="#7030a0">1.013E-05</text>
<text class="S" x="627.83" y="559.60" font-size="13" fill="#6a6af0">9.90E+02</text>
<text class="S" x="115.02" y="582.20" font-size="13" fill="#000">1.00E+05</text>
<text class="S" x="229.00" y="582.20" font-size="13" fill="#000">1</text>
<text class="S" x="282.75" y="582.20" font-size="13" fill="#ff0000">0.1</text>
<text class="S" x="336.68" y="582.20" font-size="13" fill="#7030a0">1.10E-05</text>
<text class="S" x="430.94" y="582.20" font-size="13" fill="#6a6af0">9.09E+03</text>
<text class="S" x="520.22" y="582.20" font-size="13" fill="#ff0000">0.102</text>
<text class="S" x="558.64" y="582.20" font-size="13" fill="#7030a0">1.123E-05</text>
<text class="S" x="627.74" y="582.20" font-size="13" fill="#6a6af0">9.08E+03</text>
<text class="S" x="115.02" y="604.80" font-size="13" fill="#000">1.00E+05</text>
<text class="S" x="229.00" y="604.80" font-size="13" fill="#000">1</text>
<text class="S" x="293.60" y="604.80" font-size="13" fill="#ff0000">1</text>
<text class="S" x="336.68" y="604.80" font-size="13" fill="#7030a0">2.00E-05</text>
<text class="S" x="430.76" y="604.80" font-size="13" fill="#6a6af0">5.00E+04</text>
<text class="S" x="520.22" y="604.80" font-size="13" fill="#ff0000">0.897</text>
<text class="S" x="558.64" y="604.80" font-size="13" fill="#7030a0">1.773E-05</text>
<text class="S" x="627.56" y="604.80" font-size="13" fill="#6a6af0">5.07E+04</text>
<text class="S" x="115.04" y="627.40" font-size="13" fill="#000">1.00E+03</text>
<text class="S" x="183.50" y="627.40" font-size="13" fill="#000">1.00E-02</text>
<text class="S" x="275.53" y="627.40" font-size="13" fill="#ff0000">0.01</text>
<text class="S" x="336.68" y="627.40" font-size="13" fill="#7030a0">2.00E-05</text>
<text class="S" x="431.03" y="627.40" font-size="13" fill="#6a6af0">5.00E+02</text>
<text class="S" x="512.96" y="627.40" font-size="13" fill="#ff0000">0.0089</text>
<text class="S" x="558.64" y="627.40" font-size="13" fill="#7030a0">1.771E-05</text>
<text class="S" x="627.83" y="627.40" font-size="13" fill="#6a6af0">5.03E+02</text>
<text class="S" x="115.04" y="650.00" font-size="13" fill="#000">1.00E+03</text>
<text class="S" x="183.50" y="650.00" font-size="13" fill="#000">1.00E-02</text>
<text class="S" x="282.75" y="650.00" font-size="13" fill="#ff0000">0.1</text>
<text class="S" x="336.52" y="650.00" font-size="13" fill="#7030a0">1.10E-04</text>
<text class="S" x="431.03" y="650.00" font-size="13" fill="#6a6af0">9.09E+02</text>
<text class="S" x="520.11" y="650.00" font-size="13" fill="#ff0000">0.085</text>
<text class="S" x="558.64" y="650.00" font-size="13" fill="#7030a0">9.257E-05</text>
<text class="S" x="627.83" y="650.00" font-size="13" fill="#6a6af0">9.18E+02</text>
<text class="S" x="115.04" y="672.60" font-size="13" fill="#000">1.00E+03</text>
<text class="S" x="183.50" y="672.60" font-size="13" fill="#000">1.00E-02</text>
<text class="S" x="293.60" y="672.60" font-size="13" fill="#ff0000">1</text>
<text class="S" x="336.70" y="672.60" font-size="13" fill="#7030a0">1.01E-03</text>
<text class="S" x="431.03" y="672.60" font-size="13" fill="#6a6af0">9.90E+02</text>
<text class="S" x="519.95" y="672.60" font-size="13" fill="#ff0000">2.034</text>
<text class="S" x="558.66" y="672.60" font-size="13" fill="#7030a0">2.055E-03</text>
<text class="S" x="627.83" y="672.60" font-size="13" fill="#6a6af0">9.90E+02</text>
<text class="S" x="115.02" y="694.90" font-size="13" fill="#000">1.00E+05</text>
<text class="S" x="183.41" y="694.90" font-size="13" fill="#000">1.00E-03</text>
<text class="S" x="261.07" y="694.90" font-size="13" fill="#ff0000">0.0001</text>
<text class="S" x="336.70" y="694.90" font-size="13" fill="#7030a0">1.10E-08</text>
<text class="S" x="430.94" y="694.90" font-size="13" fill="#6a6af0">9.09E+03</text>
<text class="S" x="512.97" y="694.90" font-size="13" fill="#ff0000">0.0001</text>
<text class="S" x="558.66" y="694.90" font-size="13" fill="#7030a0">1.123E-08</text>
<text class="S" x="627.74" y="694.90" font-size="13" fill="#6a6af0">8.90E+03</text>
<text class="S" x="115.02" y="717.50" font-size="13" fill="#000">1.00E+05</text>
<text class="S" x="183.41" y="717.50" font-size="13" fill="#000">1.00E-03</text>
<text class="S" x="268.30" y="717.50" font-size="13" fill="#ff0000">0.001</text>
<text class="S" x="336.70" y="717.50" font-size="13" fill="#7030a0">2.00E-08</text>
<text class="S" x="430.76" y="717.50" font-size="13" fill="#6a6af0">5.00E+04</text>
<text class="S" x="520.20" y="717.50" font-size="13" fill="#ff0000">0.001</text>
<text class="S" x="558.66" y="717.50" font-size="13" fill="#7030a0">2.160E-08</text>
<text class="S" x="627.56" y="717.50" font-size="13" fill="#6a6af0">4.63E+04</text>
<text class="S" x="115.02" y="740.10" font-size="13" fill="#000">1.00E+05</text>
<text class="S" x="183.41" y="740.10" font-size="13" fill="#000">1.00E-03</text>
<text class="S" x="275.53" y="740.10" font-size="13" fill="#ff0000">0.01</text>
<text class="S" x="336.80" y="740.10" font-size="13" fill="#7030a0">1.10E-07</text>
<text class="S" x="430.76" y="740.10" font-size="13" fill="#6a6af0">9.09E+04</text>
<text class="S" x="527.43" y="740.10" font-size="13" fill="#ff0000">0.01</text>
<text class="S" x="558.75" y="740.10" font-size="13" fill="#7030a0">1.247E-07</text>
<text class="S" x="627.56" y="740.10" font-size="13" fill="#6a6af0">8.02E+04</text>
<text class="S" x="115.02" y="762.70" font-size="13" fill="#000">1.00E+05</text>
<text class="S" x="183.41" y="762.70" font-size="13" fill="#000">1.00E-03</text>
<text class="S" x="282.75" y="762.70" font-size="13" fill="#ff0000">0.1</text>
<text class="S" x="336.70" y="762.70" font-size="13" fill="#7030a0">1.01E-06</text>
<text class="S" x="430.76" y="762.70" font-size="13" fill="#6a6af0">9.90E+04</text>
<text class="S" x="520.22" y="762.70" font-size="13" fill="#ff0000">0.102</text>
<text class="S" x="558.66" y="762.70" font-size="13" fill="#7030a0">1.133E-06</text>
<text class="S" x="627.56" y="762.70" font-size="13" fill="#6a6af0">9.00E+04</text>
<text class="S" x="115.02" y="785.30" font-size="13" fill="#000">1.00E+05</text>
<text class="S" x="183.41" y="785.30" font-size="13" fill="#000">1.00E-03</text>
<text class="S" x="293.60" y="785.30" font-size="13" fill="#ff0000">1</text>
<text class="S" x="336.68" y="785.30" font-size="13" fill="#7030a0">1.00E-05</text>
<text class="S" x="430.76" y="785.30" font-size="13" fill="#6a6af0">9.99E+04</text>
<text class="S" x="520.13" y="785.30" font-size="13" fill="#ff0000">0.968</text>
<text class="S" x="558.66" y="785.30" font-size="13" fill="#7030a0">9.461E-06</text>
<text class="S" x="627.72" y="785.30" font-size="13" fill="#6a6af0">1.02E+05</text>
</svg>
</body></html>
